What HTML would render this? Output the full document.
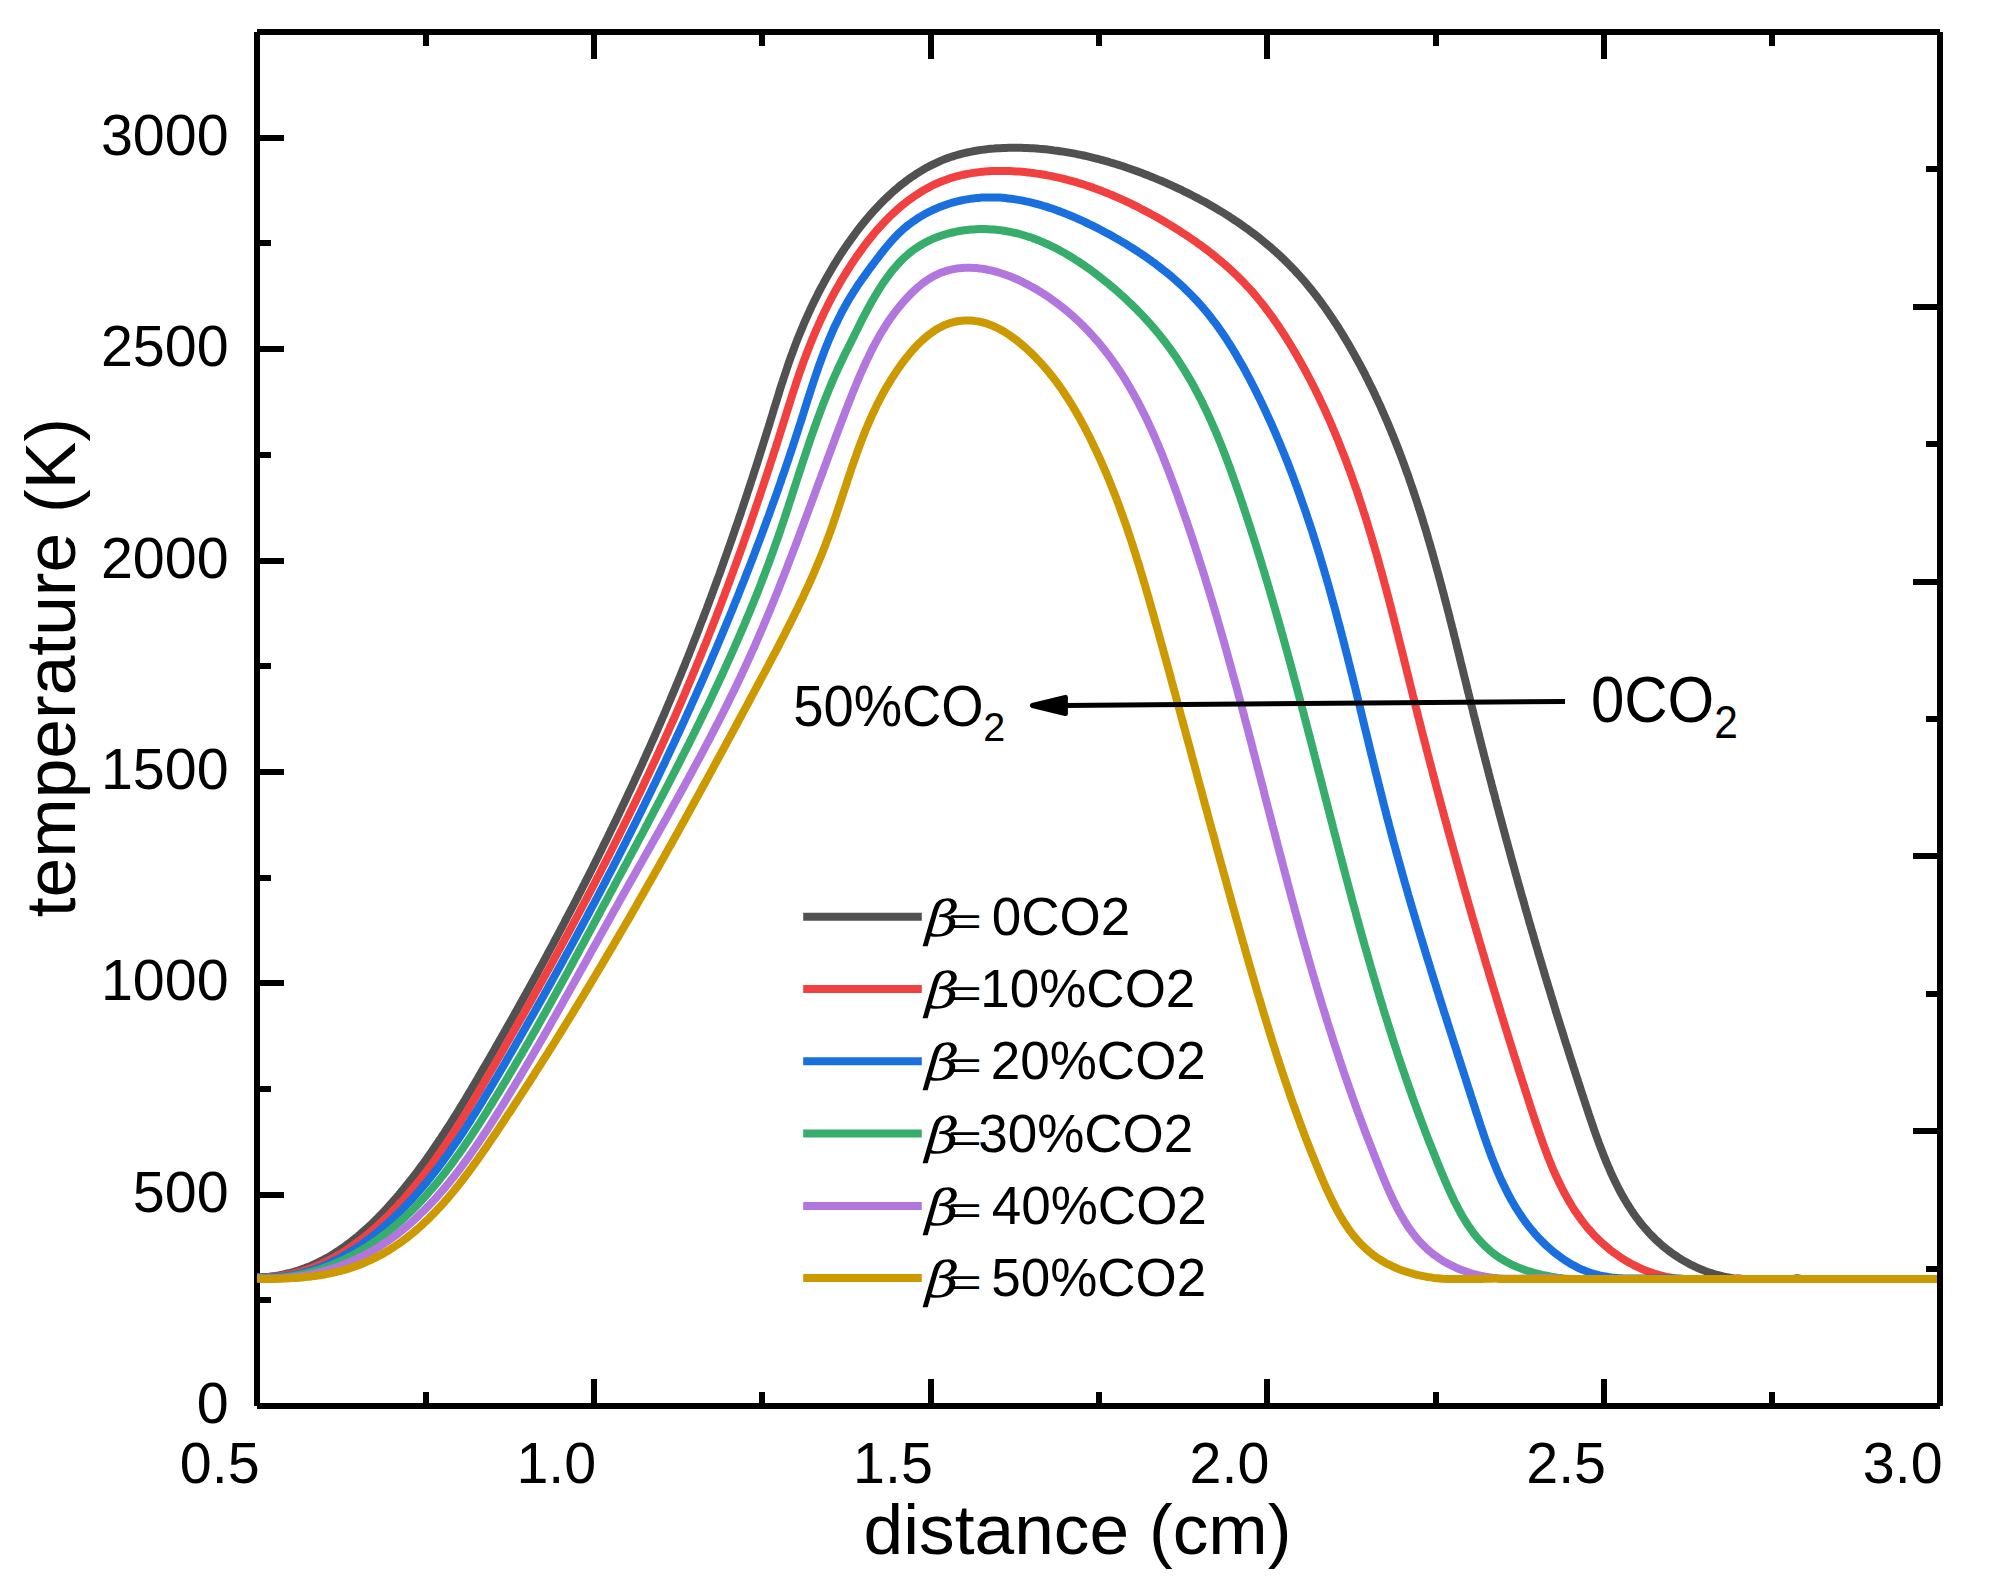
<!DOCTYPE html>
<html lang="en"><head><meta charset="utf-8"><title>temperature vs distance</title>
<style>
html,body{margin:0;padding:0;background:#fff;}
body{width:1990px;height:1584px;overflow:hidden;}
svg{display:block;}
text{font-family:"Liberation Sans",Arial,sans-serif;fill:#000;}
.beta{font-family:"DejaVu Math TeX Gyre","DejaVu Serif","Liberation Serif",serif;font-style:italic;}
</style></head><body>
<svg width="1990" height="1584" viewBox="0 0 1990 1584">
<rect x="0" y="0" width="1990" height="1584" fill="#fff"/>
<path d="M257.0 32.0H1940.0M1940.0 1406.0H257.0M257.0 1406.0V32.0" fill="none" stroke="#000" stroke-width="6.0" shape-rendering="crispEdges"/>
<defs><clipPath id="pa"><rect x="257.0" y="32.0" width="1683.0" height="1374.0"/></clipPath></defs>
<g clip-path="url(#pa)" fill="none" stroke-width="8" stroke-linejoin="round" stroke-linecap="butt">
<path stroke="#515151" d="M256.0 1277.4L260.2 1277.3L263.3 1277.2L266.4 1276.9L269.5 1276.7L272.6 1276.3L275.6 1275.9L278.6 1275.4L281.6 1274.8L284.6 1274.2L287.5 1273.5L290.4 1272.8L293.3 1272.0L296.2 1271.2L299.0 1270.3L301.8 1269.3L304.6 1268.3L307.3 1267.2L310.1 1266.1L312.8 1264.9L315.5 1263.7L318.2 1262.4L320.8 1261.1L323.4 1259.7L326.0 1258.3L328.6 1256.9L331.2 1255.4L333.7 1253.8L336.2 1252.2L338.7 1250.6L341.2 1248.9L343.6 1247.2L346.0 1245.5L348.4 1243.7L350.8 1241.9L353.2 1240.0L355.5 1238.2L357.9 1236.3L360.2 1234.3L362.4 1232.3L364.7 1230.3L367.0 1228.3L369.2 1226.2L371.4 1224.2L373.6 1222.1L375.7 1219.9L377.9 1217.8L380.0 1215.6L382.1 1213.4L384.2 1211.2L386.3 1209.0L388.4 1206.7L390.4 1204.4L392.4 1202.2L394.4 1199.9L396.4 1197.6L398.4 1195.3L400.4 1192.9L402.3 1190.6L404.2 1188.2L406.1 1185.9L408.0 1183.5L409.9 1181.1L411.8 1178.8L413.6 1176.4L415.5 1174.0L417.3 1171.6L419.1 1169.2L420.9 1166.7L422.7 1164.3L424.5 1161.9L426.2 1159.4L428.0 1157.0L429.7 1154.5L431.4 1152.1L433.1 1149.6L434.8 1147.1L436.5 1144.6L438.2 1142.1L439.9 1139.6L441.5 1137.1L443.2 1134.6L444.8 1132.1L446.4 1129.6L448.1 1127.1L449.7 1124.6L451.3 1122.0L452.9 1119.5L454.5 1116.9L456.1 1114.4L457.7 1111.9L459.2 1109.3L460.8 1106.7L462.4 1104.2L463.9 1101.6L465.5 1099.1L467.0 1096.5L468.5 1093.9L470.1 1091.3L471.6 1088.8L473.1 1086.2L474.7 1083.6L476.2 1081.0L477.7 1078.4L479.2 1075.8L480.7 1073.2L482.2 1070.6L483.7 1068.1L485.2 1065.5L486.8 1062.9L488.3 1060.3L489.8 1057.7L491.3 1055.1L492.8 1052.5L494.3 1049.9L495.7 1047.3L497.2 1044.7L498.7 1042.1L500.2 1039.4L501.7 1036.8L503.2 1034.2L504.7 1031.6L506.2 1029.0L507.6 1026.4L509.1 1023.8L510.6 1021.2L512.1 1018.6L513.6 1015.9L515.0 1013.3L516.5 1010.7L518.0 1008.1L519.4 1005.5L520.9 1002.8L522.4 1000.2L523.8 997.6L525.3 995.0L526.7 992.3L528.2 989.7L529.6 987.1L531.1 984.4L532.5 981.8L534.0 979.2L535.4 976.5L536.9 973.9L538.3 971.2L539.7 968.6L541.2 966.0L542.6 963.3L544.0 960.7L545.5 958.0L546.9 955.4L548.3 952.7L549.7 950.1L551.2 947.4L552.6 944.8L554.0 942.1L555.4 939.5L556.8 936.8L558.2 934.2L559.6 931.5L561.0 928.9L562.5 926.2L563.9 923.5L565.2 920.9L566.6 918.2L568.0 915.5L569.4 912.9L570.8 910.2L572.2 907.5L573.6 904.9L575.0 902.2L576.4 899.5L577.7 896.9L579.1 894.2L580.5 891.5L581.8 888.8L583.2 886.2L584.6 883.5L585.9 880.8L587.3 878.1L588.7 875.4L590.0 872.7L591.4 870.1L592.7 867.4L594.1 864.7L595.4 862.0L596.7 859.3L598.1 856.6L599.4 853.9L600.8 851.2L602.1 848.5L603.4 845.8L604.7 843.1L606.1 840.4L607.4 837.7L608.7 835.0L610.0 832.3L611.3 829.6L612.6 826.9L614.0 824.2L615.3 821.5L616.6 818.8L617.9 816.1L619.2 813.3L620.4 810.6L621.7 807.9L623.0 805.2L624.3 802.5L625.6 799.8L626.9 797.0L628.1 794.3L629.4 791.6L630.7 788.9L632.0 786.1L633.2 783.4L634.5 780.7L635.7 777.9L637.0 775.2L638.3 772.5L639.5 769.7L640.8 767.0L642.0 764.3L643.2 761.5L644.5 758.8L645.7 756.1L646.9 753.3L648.2 750.6L649.4 747.8L650.6 745.1L651.8 742.3L653.1 739.6L654.3 736.8L655.5 734.1L656.7 731.3L657.9 728.6L659.1 725.8L660.3 723.1L661.5 720.3L662.7 717.5L663.9 714.8L665.1 712.0L666.2 709.3L667.4 706.5L668.6 703.7L669.8 701.0L670.9 698.2L672.1 695.4L673.3 692.6L674.4 689.9L675.6 687.1L676.7 684.3L677.9 681.5L679.0 678.8L680.2 676.0L681.3 673.2L682.4 670.4L683.6 667.6L684.7 664.9L685.8 662.1L686.9 659.3L688.1 656.5L689.2 653.7L690.3 650.9L691.4 648.1L692.5 645.3L693.6 642.5L694.7 639.7L695.8 636.9L696.9 634.1L698.0 631.3L699.1 628.5L700.1 625.7L701.2 622.9L702.3 620.1L703.4 617.3L704.4 614.5L705.5 611.7L706.6 608.9L707.6 606.1L708.7 603.3L709.7 600.4L710.8 597.6L711.8 594.8L712.9 592.0L713.9 589.2L714.9 586.4L716.0 583.5L717.0 580.7L718.0 577.9L719.1 575.1L720.1 572.3L721.1 569.4L722.1 566.6L723.1 563.8L724.1 560.9L725.1 558.1L726.1 555.3L727.1 552.5L728.1 549.6L729.1 546.8L730.1 544.0L731.1 541.1L732.1 538.3L733.1 535.4L734.1 532.6L735.0 529.8L736.0 526.9L737.0 524.1L738.0 521.2L738.9 518.4L739.9 515.6L740.9 512.7L741.8 509.9L742.8 507.0L743.7 504.2L744.7 501.3L745.6 498.5L746.6 495.6L747.5 492.8L748.4 489.9L749.4 487.1L750.3 484.2L751.2 481.4L752.2 478.5L753.1 475.7L754.0 472.8L754.9 470.0L755.9 467.1L756.8 464.3L757.7 461.4L758.6 458.5L759.5 455.7L760.4 452.8L761.3 450.0L762.2 447.1L763.1 444.2L764.0 441.4L764.9 438.5L765.8 435.7L766.7 432.8L767.6 429.9L768.5 427.1L769.4 424.2L770.2 421.3L771.1 418.5L772.0 415.6L772.9 412.8L773.7 409.9L774.6 407.0L775.5 404.2L776.4 401.3L777.3 398.4L778.2 395.6L779.0 392.7L779.9 389.8L780.8 387.0L781.7 384.1L782.7 381.3L783.6 378.4L784.5 375.6L785.5 372.7L786.4 369.9L787.4 367.0L788.3 364.2L789.3 361.4L790.3 358.5L791.3 355.7L792.4 352.9L793.4 350.1L794.5 347.2L795.5 344.4L796.6 341.6L797.7 338.8L798.8 336.0L800.0 333.2L801.1 330.5L802.3 327.7L803.4 324.9L804.6 322.1L805.8 319.4L807.1 316.6L808.3 313.9L809.6 311.1L810.8 308.4L812.1 305.6L813.4 302.9L814.8 300.2L816.1 297.5L817.5 294.8L818.8 292.1L820.2 289.4L821.6 286.8L823.1 284.1L824.5 281.4L826.0 278.8L827.5 276.1L829.0 273.5L830.5 270.9L832.0 268.3L833.6 265.7L835.2 263.1L836.8 260.5L838.4 257.9L840.0 255.4L841.7 252.8L843.4 250.3L845.1 247.8L846.8 245.3L848.5 242.8L850.3 240.3L852.1 237.8L853.9 235.3L855.7 232.9L857.5 230.4L859.4 228.0L861.3 225.6L863.2 223.2L865.1 220.9L867.1 218.5L869.1 216.2L871.1 213.9L873.1 211.6L875.1 209.4L877.2 207.2L879.3 205.0L881.4 202.8L883.5 200.7L885.7 198.5L887.9 196.5L890.1 194.4L892.3 192.4L894.5 190.4L896.8 188.5L899.1 186.5L901.4 184.7L903.8 182.8L906.1 181.0L908.5 179.3L910.9 177.5L913.4 175.9L915.8 174.2L918.3 172.6L920.8 171.1L923.3 169.6L925.9 168.1L928.5 166.7L931.1 165.4L933.7 164.1L936.4 162.8L939.0 161.6L941.7 160.4L944.5 159.3L947.2 158.3L950.0 157.3L952.8 156.4L955.6 155.5L958.5 154.7L961.3 153.9L964.2 153.2L967.1 152.5L970.1 151.9L973.0 151.3L975.9 150.8L978.9 150.3L981.9 149.9L984.9 149.5L987.9 149.1L990.9 148.8L993.9 148.6L996.9 148.3L1000.0 148.2L1003.0 148.0L1006.0 147.9L1009.0 147.8L1012.1 147.8L1015.1 147.8L1018.1 147.8L1021.2 147.8L1024.2 147.9L1027.2 148.0L1030.2 148.2L1033.2 148.3L1036.2 148.5L1039.2 148.8L1042.2 149.0L1045.2 149.3L1048.2 149.6L1051.2 150.0L1054.1 150.4L1057.1 150.7L1060.1 151.2L1063.1 151.6L1066.0 152.1L1069.0 152.6L1071.9 153.1L1074.9 153.7L1077.8 154.3L1080.8 154.9L1083.7 155.5L1086.6 156.2L1089.6 156.9L1092.5 157.6L1095.4 158.3L1098.3 159.0L1101.2 159.8L1104.1 160.6L1107.0 161.4L1109.9 162.3L1112.8 163.1L1115.7 164.0L1118.5 164.9L1121.4 165.8L1124.3 166.8L1127.1 167.7L1130.0 168.7L1132.8 169.7L1135.7 170.7L1138.5 171.8L1141.3 172.8L1144.2 173.9L1147.0 175.0L1149.8 176.1L1152.6 177.3L1155.4 178.4L1158.2 179.6L1161.0 180.7L1163.7 181.9L1166.5 183.1L1169.3 184.4L1172.0 185.6L1174.8 186.9L1177.5 188.2L1180.3 189.4L1183.0 190.8L1185.7 192.1L1188.4 193.4L1191.1 194.8L1193.8 196.2L1196.5 197.6L1199.2 199.0L1201.8 200.4L1204.5 201.8L1207.1 203.3L1209.7 204.8L1212.3 206.3L1214.9 207.8L1217.5 209.3L1220.1 210.9L1222.7 212.4L1225.2 214.0L1227.8 215.6L1230.3 217.3L1232.8 218.9L1235.3 220.6L1237.8 222.2L1240.3 223.9L1242.8 225.7L1245.2 227.4L1247.6 229.1L1250.1 230.9L1252.5 232.7L1254.8 234.5L1257.2 236.3L1259.6 238.2L1261.9 240.1L1264.2 242.0L1266.5 243.9L1268.8 245.8L1271.1 247.7L1273.3 249.7L1275.6 251.7L1277.8 253.7L1280.0 255.7L1282.1 257.8L1284.3 259.8L1286.4 261.9L1288.5 264.0L1290.6 266.2L1292.7 268.3L1294.8 270.5L1296.8 272.7L1298.8 274.9L1300.8 277.1L1302.8 279.4L1304.8 281.7L1306.7 283.9L1308.6 286.3L1310.5 288.6L1312.4 290.9L1314.2 293.3L1316.1 295.6L1317.9 298.0L1319.7 300.4L1321.5 302.9L1323.3 305.3L1325.0 307.7L1326.8 310.2L1328.5 312.7L1330.2 315.2L1331.9 317.7L1333.5 320.2L1335.2 322.7L1336.8 325.2L1338.5 327.8L1340.1 330.3L1341.7 332.9L1343.2 335.5L1344.8 338.0L1346.3 340.6L1347.9 343.2L1349.4 345.8L1350.9 348.4L1352.4 351.1L1353.9 353.7L1355.3 356.3L1356.8 359.0L1358.2 361.6L1359.7 364.2L1361.1 366.9L1362.5 369.5L1363.9 372.2L1365.3 374.9L1366.6 377.6L1368.0 380.2L1369.3 382.9L1370.6 385.6L1372.0 388.3L1373.3 391.0L1374.6 393.7L1375.8 396.4L1377.1 399.1L1378.4 401.9L1379.6 404.6L1380.9 407.3L1382.1 410.1L1383.3 412.8L1384.5 415.5L1385.7 418.3L1386.9 421.0L1388.1 423.8L1389.2 426.6L1390.4 429.3L1391.5 432.1L1392.7 434.9L1393.8 437.7L1394.9 440.4L1396.0 443.2L1397.1 446.0L1398.2 448.8L1399.3 451.6L1400.3 454.4L1401.4 457.2L1402.4 460.0L1403.5 462.9L1404.5 465.7L1405.5 468.5L1406.5 471.3L1407.6 474.2L1408.6 477.0L1409.5 479.8L1410.5 482.7L1411.5 485.5L1412.5 488.4L1413.4 491.2L1414.4 494.1L1415.3 496.9L1416.3 499.8L1417.2 502.6L1418.1 505.5L1419.0 508.4L1420.0 511.2L1420.9 514.1L1421.8 517.0L1422.7 519.9L1423.5 522.7L1424.4 525.6L1425.3 528.5L1426.2 531.4L1427.0 534.3L1427.9 537.2L1428.7 540.1L1429.6 543.0L1430.4 545.9L1431.2 548.7L1432.1 551.6L1432.9 554.6L1433.7 557.5L1434.5 560.4L1435.3 563.3L1436.1 566.2L1436.9 569.1L1437.7 572.0L1438.5 574.9L1439.3 577.8L1440.1 580.7L1440.9 583.7L1441.7 586.6L1442.4 589.5L1443.2 592.4L1444.0 595.3L1444.7 598.3L1445.5 601.2L1446.3 604.1L1447.0 607.0L1447.8 610.0L1448.5 612.9L1449.3 615.8L1450.0 618.7L1450.7 621.7L1451.5 624.6L1452.2 627.5L1453.0 630.4L1453.7 633.4L1454.4 636.3L1455.2 639.2L1455.9 642.2L1456.6 645.1L1457.3 648.0L1458.1 650.9L1458.8 653.9L1459.5 656.8L1460.2 659.7L1460.9 662.7L1461.7 665.6L1462.4 668.5L1463.1 671.4L1463.8 674.4L1464.5 677.3L1465.3 680.2L1466.0 683.1L1466.7 686.0L1467.4 689.0L1468.1 691.9L1468.9 694.8L1469.6 697.7L1470.3 700.6L1471.0 703.6L1471.8 706.5L1472.5 709.4L1473.2 712.3L1473.9 715.2L1474.7 718.1L1475.4 721.0L1476.1 723.9L1476.9 726.8L1477.6 729.7L1478.3 732.6L1479.1 735.6L1479.8 738.5L1480.5 741.4L1481.3 744.3L1482.0 747.2L1482.8 750.1L1483.5 753.0L1484.2 755.8L1485.0 758.7L1485.7 761.6L1486.5 764.5L1487.2 767.4L1488.0 770.3L1488.7 773.2L1489.5 776.1L1490.2 779.0L1491.0 781.9L1491.7 784.8L1492.5 787.7L1493.2 790.5L1494.0 793.4L1494.8 796.3L1495.5 799.2L1496.3 802.1L1497.0 805.0L1497.8 807.9L1498.6 810.7L1499.3 813.6L1500.1 816.5L1500.9 819.4L1501.7 822.3L1502.4 825.1L1503.2 828.0L1504.0 830.9L1504.8 833.8L1505.5 836.7L1506.3 839.5L1507.1 842.4L1507.9 845.3L1508.7 848.2L1509.5 851.0L1510.2 853.9L1511.0 856.8L1511.8 859.7L1512.6 862.6L1513.4 865.4L1514.2 868.3L1515.0 871.2L1515.8 874.1L1516.6 876.9L1517.4 879.8L1518.2 882.7L1519.0 885.6L1519.8 888.4L1520.6 891.3L1521.4 894.2L1522.2 897.0L1523.1 899.9L1523.9 902.8L1524.7 905.7L1525.5 908.5L1526.3 911.4L1527.2 914.3L1528.0 917.2L1528.8 920.0L1529.6 922.9L1530.5 925.8L1531.3 928.7L1532.1 931.5L1533.0 934.4L1533.8 937.3L1534.6 940.2L1535.5 943.0L1536.3 945.9L1537.2 948.8L1538.0 951.7L1538.9 954.6L1539.7 957.4L1540.6 960.3L1541.4 963.2L1542.3 966.1L1543.1 968.9L1544.0 971.8L1544.8 974.7L1545.7 977.6L1546.6 980.5L1547.4 983.3L1548.3 986.2L1549.2 989.1L1550.1 992.0L1550.9 994.9L1551.8 997.8L1552.7 1000.6L1553.6 1003.5L1554.4 1006.4L1555.3 1009.3L1556.2 1012.2L1557.1 1015.1L1558.0 1018.0L1558.9 1020.9L1559.8 1023.7L1560.7 1026.6L1561.6 1029.5L1562.5 1032.4L1563.4 1035.3L1564.3 1038.2L1565.2 1041.1L1566.1 1044.0L1567.1 1046.9L1568.0 1049.8L1568.9 1052.7L1569.8 1055.6L1570.7 1058.5L1571.7 1061.4L1572.6 1064.3L1573.5 1067.2L1574.5 1070.1L1575.4 1073.0L1576.3 1075.9L1577.3 1078.8L1578.2 1081.7L1579.2 1084.6L1580.1 1087.5L1581.0 1090.4L1582.0 1093.4L1583.0 1096.3L1583.9 1099.2L1584.9 1102.1L1585.8 1105.0L1586.8 1107.9L1587.8 1110.9L1588.7 1113.8L1589.7 1116.7L1590.7 1119.6L1591.7 1122.5L1592.7 1125.4L1593.7 1128.4L1594.7 1131.3L1595.7 1134.2L1596.7 1137.0L1597.8 1139.9L1598.8 1142.8L1599.9 1145.7L1601.0 1148.5L1602.1 1151.4L1603.2 1154.2L1604.3 1157.1L1605.5 1159.9L1606.6 1162.7L1607.8 1165.5L1609.0 1168.2L1610.2 1171.0L1611.4 1173.8L1612.7 1176.5L1614.0 1179.2L1615.3 1181.9L1616.6 1184.6L1617.9 1187.2L1619.3 1189.9L1620.7 1192.5L1622.1 1195.1L1623.6 1197.6L1625.1 1200.2L1626.6 1202.7L1628.1 1205.2L1629.7 1207.7L1631.3 1210.1L1632.9 1212.6L1634.6 1215.0L1636.3 1217.3L1638.1 1219.7L1639.8 1222.0L1641.6 1224.3L1643.5 1226.5L1645.4 1228.7L1647.3 1230.9L1649.2 1233.0L1651.3 1235.2L1653.3 1237.2L1655.4 1239.3L1657.5 1241.3L1659.7 1243.3L1661.9 1245.2L1664.1 1247.1L1666.4 1248.9L1668.8 1250.7L1671.1 1252.5L1673.5 1254.2L1676.0 1255.9L1678.4 1257.5L1680.9 1259.1L1683.5 1260.6L1686.1 1262.1L1688.7 1263.5L1691.3 1264.9L1694.0 1266.2L1696.7 1267.5L1699.4 1268.7L1702.2 1269.8L1705.0 1270.9L1707.8 1271.9L1710.6 1272.9L1713.5 1273.8L1716.4 1274.7L1719.3 1275.4L1722.2 1276.2L1725.2 1276.8L1728.2 1277.4L1731.1 1278.0L1734.1 1278.5L1737.2 1278.9L1740.2 1279.0L1743.2 1279.0L1746.3 1279.0L1749.4 1279.0L1752.4 1279.0L1755.5 1279.0L1758.6 1279.0L1761.6 1279.0L1764.7 1279.0L1767.8 1279.0L1770.8 1279.0L1773.9 1279.0L1777.0 1279.0L1780.0 1279.0L1783.1 1279.0L1786.1 1279.0L1789.1 1279.0L1792.1 1279.0L1795.1 1278.6L1798.1 1278.3L1801.0 1279.0L1941.0 1279.0"/>
<path stroke="#F14040" d="M256.0 1277.4L260.1 1277.4L263.3 1277.4L266.4 1277.3L269.5 1277.1L272.6 1276.9L275.6 1276.6L278.7 1276.2L281.7 1275.8L284.7 1275.3L287.6 1274.7L290.6 1274.1L293.5 1273.4L296.4 1272.7L299.3 1271.9L302.1 1271.1L305.0 1270.2L307.8 1269.2L310.6 1268.2L313.4 1267.2L316.1 1266.1L318.9 1264.9L321.6 1263.7L324.3 1262.5L326.9 1261.2L329.6 1259.8L332.2 1258.4L334.8 1257.0L337.4 1255.5L340.0 1254.0L342.5 1252.4L345.0 1250.9L347.5 1249.2L350.0 1247.5L352.5 1245.8L354.9 1244.1L357.4 1242.3L359.8 1240.5L362.2 1238.7L364.5 1236.8L366.9 1234.9L369.2 1233.0L371.5 1231.0L373.8 1229.0L376.1 1227.0L378.3 1225.0L380.5 1222.9L382.7 1220.8L384.9 1218.7L387.1 1216.6L389.3 1214.5L391.4 1212.3L393.5 1210.1L395.6 1207.9L397.7 1205.7L399.7 1203.5L401.8 1201.3L403.8 1199.0L405.8 1196.8L407.8 1194.5L409.7 1192.2L411.7 1189.9L413.6 1187.6L415.5 1185.3L417.4 1182.9L419.3 1180.6L421.2 1178.2L423.0 1175.9L424.9 1173.5L426.7 1171.1L428.5 1168.7L430.3 1166.3L432.1 1163.9L433.9 1161.5L435.6 1159.0L437.4 1156.6L439.1 1154.1L440.8 1151.7L442.5 1149.2L444.2 1146.7L445.9 1144.3L447.6 1141.8L449.2 1139.3L450.9 1136.8L452.5 1134.3L454.2 1131.7L455.8 1129.2L457.4 1126.7L459.0 1124.2L460.6 1121.6L462.2 1119.1L463.8 1116.5L465.4 1114.0L467.0 1111.4L468.5 1108.8L470.1 1106.3L471.7 1103.7L473.2 1101.1L474.7 1098.5L476.3 1096.0L477.8 1093.4L479.4 1090.8L480.9 1088.2L482.4 1085.6L483.9 1083.0L485.4 1080.4L487.0 1077.8L488.5 1075.2L490.0 1072.6L491.5 1070.0L493.0 1067.4L494.5 1064.8L496.0 1062.2L497.5 1059.6L499.0 1057.0L500.5 1054.4L502.0 1051.8L503.5 1049.2L505.0 1046.6L506.5 1043.9L508.0 1041.3L509.5 1038.7L511.0 1036.1L512.5 1033.5L514.0 1030.9L515.5 1028.3L516.9 1025.7L518.4 1023.0L519.9 1020.4L521.4 1017.8L522.9 1015.2L524.4 1012.6L525.8 1009.9L527.3 1007.3L528.8 1004.7L530.3 1002.1L531.7 999.5L533.2 996.8L534.7 994.2L536.1 991.6L537.6 989.0L539.1 986.3L540.5 983.7L542.0 981.1L543.4 978.4L544.9 975.8L546.4 973.2L547.8 970.5L549.3 967.9L550.7 965.3L552.2 962.6L553.6 960.0L555.0 957.4L556.5 954.7L557.9 952.1L559.4 949.4L560.8 946.8L562.2 944.2L563.7 941.5L565.1 938.9L566.5 936.2L568.0 933.6L569.4 930.9L570.8 928.3L572.2 925.6L573.6 923.0L575.1 920.3L576.5 917.7L577.9 915.0L579.3 912.4L580.7 909.7L582.1 907.0L583.5 904.4L584.9 901.7L586.3 899.1L587.7 896.4L589.1 893.7L590.5 891.1L591.9 888.4L593.3 885.7L594.7 883.1L596.0 880.4L597.4 877.7L598.8 875.1L600.2 872.4L601.5 869.7L602.9 867.0L604.3 864.4L605.7 861.7L607.0 859.0L608.4 856.3L609.7 853.7L611.1 851.0L612.4 848.3L613.8 845.6L615.1 842.9L616.5 840.2L617.8 837.6L619.2 834.9L620.5 832.2L621.9 829.5L623.2 826.8L624.5 824.1L625.8 821.4L627.2 818.7L628.5 816.0L629.8 813.3L631.1 810.6L632.4 807.9L633.8 805.2L635.1 802.5L636.4 799.8L637.7 797.1L639.0 794.4L640.3 791.7L641.6 789.0L642.9 786.3L644.1 783.5L645.4 780.8L646.7 778.1L648.0 775.4L649.3 772.7L650.5 770.0L651.8 767.2L653.1 764.5L654.4 761.8L655.6 759.1L656.9 756.3L658.1 753.6L659.4 750.9L660.6 748.1L661.9 745.4L663.1 742.7L664.4 739.9L665.6 737.2L666.8 734.5L668.1 731.7L669.3 729.0L670.5 726.2L671.7 723.5L673.0 720.8L674.2 718.0L675.4 715.3L676.6 712.5L677.8 709.8L679.0 707.0L680.2 704.3L681.4 701.5L682.6 698.7L683.8 696.0L685.0 693.2L686.1 690.5L687.3 687.7L688.5 684.9L689.7 682.2L690.8 679.4L692.0 676.6L693.1 673.8L694.3 671.1L695.5 668.3L696.6 665.5L697.7 662.7L698.9 660.0L700.0 657.2L701.2 654.4L702.3 651.6L703.4 648.8L704.5 646.0L705.7 643.3L706.8 640.5L707.9 637.7L709.0 634.9L710.1 632.1L711.2 629.3L712.3 626.5L713.4 623.7L714.5 620.9L715.6 618.1L716.7 615.3L717.8 612.5L718.8 609.7L719.9 606.9L721.0 604.1L722.1 601.2L723.1 598.4L724.2 595.6L725.2 592.8L726.3 590.0L727.4 587.2L728.4 584.4L729.5 581.5L730.5 578.7L731.5 575.9L732.6 573.1L733.6 570.3L734.6 567.4L735.7 564.6L736.7 561.8L737.7 559.0L738.7 556.1L739.8 553.3L740.8 550.5L741.8 547.6L742.8 544.8L743.8 542.0L744.8 539.1L745.8 536.3L746.8 533.5L747.8 530.6L748.8 527.8L749.8 525.0L750.8 522.1L751.7 519.3L752.7 516.5L753.7 513.6L754.7 510.8L755.6 507.9L756.6 505.1L757.6 502.2L758.5 499.4L759.5 496.6L760.5 493.7L761.4 490.9L762.4 488.0L763.3 485.2L764.3 482.3L765.2 479.5L766.2 476.6L767.1 473.8L768.0 470.9L769.0 468.1L769.9 465.2L770.8 462.4L771.8 459.5L772.7 456.7L773.6 453.8L774.5 451.0L775.5 448.1L776.4 445.3L777.3 442.4L778.2 439.6L779.1 436.7L780.0 433.9L780.9 431.0L781.8 428.1L782.7 425.3L783.6 422.4L784.5 419.6L785.4 416.7L786.3 413.9L787.2 411.0L788.1 408.2L789.0 405.3L789.9 402.5L790.8 399.6L791.7 396.8L792.6 393.9L793.5 391.1L794.5 388.2L795.4 385.4L796.3 382.5L797.3 379.7L798.2 376.9L799.2 374.0L800.2 371.2L801.2 368.4L802.2 365.5L803.2 362.7L804.2 359.9L805.3 357.1L806.3 354.3L807.4 351.5L808.5 348.7L809.6 345.9L810.7 343.1L811.8 340.3L813.0 337.5L814.2 334.7L815.3 332.0L816.5 329.2L817.8 326.4L819.0 323.7L820.3 320.9L821.5 318.2L822.8 315.5L824.1 312.7L825.4 310.0L826.8 307.3L828.1 304.6L829.5 301.9L830.9 299.2L832.3 296.5L833.8 293.8L835.2 291.2L836.7 288.5L838.2 285.9L839.7 283.2L841.3 280.6L842.8 278.0L844.4 275.4L846.0 272.8L847.6 270.2L849.3 267.6L850.9 265.0L852.6 262.5L854.3 259.9L856.0 257.4L857.8 254.9L859.6 252.4L861.4 249.9L863.2 247.4L865.0 244.9L866.9 242.5L868.8 240.1L870.7 237.7L872.6 235.4L874.5 233.0L876.5 230.7L878.5 228.4L880.5 226.2L882.6 223.9L884.7 221.7L886.8 219.6L888.9 217.4L891.0 215.4L893.2 213.3L895.4 211.3L897.6 209.3L899.9 207.3L902.1 205.4L904.4 203.6L906.8 201.7L909.1 199.9L911.5 198.2L913.9 196.5L916.3 194.9L918.8 193.3L921.2 191.7L923.7 190.2L926.3 188.8L928.8 187.4L931.4 186.0L934.0 184.7L936.7 183.5L939.4 182.3L942.1 181.2L944.8 180.2L947.5 179.2L950.3 178.2L953.1 177.4L956.0 176.5L958.8 175.8L961.7 175.1L964.6 174.5L967.5 173.9L970.5 173.4L973.5 172.9L976.4 172.5L979.4 172.1L982.4 171.8L985.4 171.5L988.5 171.3L991.5 171.1L994.5 171.0L997.6 170.9L1000.6 170.9L1003.7 170.9L1006.7 171.0L1009.8 171.1L1012.8 171.2L1015.8 171.4L1018.9 171.6L1021.9 171.8L1024.9 172.1L1027.9 172.4L1030.9 172.8L1033.9 173.1L1036.9 173.6L1039.9 174.0L1042.8 174.5L1045.8 175.0L1048.7 175.6L1051.7 176.1L1054.6 176.8L1057.6 177.4L1060.5 178.1L1063.4 178.8L1066.3 179.5L1069.2 180.3L1072.1 181.1L1075.0 181.9L1077.9 182.8L1080.8 183.6L1083.6 184.5L1086.5 185.5L1089.3 186.4L1092.2 187.4L1095.0 188.4L1097.8 189.5L1100.6 190.5L1103.4 191.6L1106.2 192.7L1109.0 193.9L1111.8 195.0L1114.6 196.2L1117.4 197.4L1120.1 198.6L1122.9 199.9L1125.6 201.1L1128.3 202.4L1131.0 203.7L1133.8 205.1L1136.5 206.4L1139.2 207.8L1141.8 209.2L1144.5 210.6L1147.2 212.0L1149.9 213.4L1152.5 214.9L1155.1 216.3L1157.8 217.8L1160.4 219.3L1163.0 220.8L1165.6 222.3L1168.2 223.9L1170.8 225.4L1173.4 227.0L1175.9 228.6L1178.5 230.2L1181.0 231.8L1183.6 233.5L1186.1 235.1L1188.6 236.8L1191.1 238.5L1193.5 240.2L1196.0 241.9L1198.4 243.7L1200.9 245.4L1203.3 247.2L1205.7 249.0L1208.1 250.8L1210.4 252.6L1212.8 254.5L1215.1 256.4L1217.4 258.3L1219.7 260.2L1222.0 262.1L1224.3 264.0L1226.5 266.0L1228.8 268.0L1231.0 270.0L1233.2 272.1L1235.3 274.1L1237.5 276.2L1239.6 278.3L1241.7 280.4L1243.8 282.5L1245.8 284.7L1247.9 286.9L1249.9 289.1L1251.9 291.3L1253.9 293.6L1255.8 295.9L1257.7 298.2L1259.6 300.5L1261.5 302.8L1263.4 305.2L1265.2 307.6L1267.0 310.0L1268.8 312.4L1270.6 314.8L1272.4 317.2L1274.1 319.7L1275.8 322.2L1277.5 324.6L1279.2 327.1L1280.9 329.7L1282.5 332.2L1284.2 334.7L1285.8 337.3L1287.4 339.8L1289.0 342.4L1290.5 344.9L1292.1 347.5L1293.6 350.1L1295.2 352.7L1296.7 355.3L1298.2 357.9L1299.7 360.5L1301.2 363.2L1302.6 365.8L1304.1 368.4L1305.5 371.1L1306.9 373.7L1308.3 376.3L1309.7 379.0L1311.1 381.7L1312.5 384.3L1313.8 387.0L1315.2 389.7L1316.5 392.4L1317.8 395.1L1319.1 397.8L1320.4 400.5L1321.7 403.2L1323.0 405.9L1324.2 408.6L1325.5 411.3L1326.7 414.1L1327.9 416.8L1329.2 419.5L1330.4 422.3L1331.6 425.0L1332.7 427.8L1333.9 430.5L1335.1 433.3L1336.2 436.0L1337.4 438.8L1338.5 441.6L1339.6 444.4L1340.7 447.2L1341.8 449.9L1342.9 452.7L1344.0 455.5L1345.1 458.3L1346.1 461.1L1347.2 464.0L1348.2 466.8L1349.3 469.6L1350.3 472.4L1351.3 475.2L1352.3 478.1L1353.3 480.9L1354.3 483.7L1355.3 486.6L1356.3 489.4L1357.3 492.2L1358.2 495.1L1359.2 497.9L1360.1 500.8L1361.1 503.7L1362.0 506.5L1362.9 509.4L1363.8 512.2L1364.8 515.1L1365.7 518.0L1366.6 520.9L1367.5 523.7L1368.3 526.6L1369.2 529.5L1370.1 532.4L1371.0 535.3L1371.8 538.2L1372.7 541.1L1373.5 544.0L1374.4 546.8L1375.2 549.7L1376.1 552.6L1376.9 555.5L1377.7 558.4L1378.5 561.4L1379.3 564.3L1380.1 567.2L1381.0 570.1L1381.8 573.0L1382.5 575.9L1383.3 578.8L1384.1 581.7L1384.9 584.7L1385.7 587.6L1386.5 590.5L1387.2 593.4L1388.0 596.3L1388.8 599.3L1389.5 602.2L1390.3 605.1L1391.1 608.0L1391.8 611.0L1392.6 613.9L1393.3 616.8L1394.1 619.7L1394.8 622.7L1395.5 625.6L1396.3 628.5L1397.0 631.5L1397.8 634.4L1398.5 637.3L1399.2 640.2L1400.0 643.2L1400.7 646.1L1401.4 649.0L1402.2 652.0L1402.9 654.9L1403.6 657.8L1404.3 660.8L1405.1 663.7L1405.8 666.6L1406.5 669.5L1407.2 672.5L1408.0 675.4L1408.7 678.3L1409.4 681.2L1410.1 684.2L1410.9 687.1L1411.6 690.0L1412.3 692.9L1413.0 695.8L1413.8 698.8L1414.5 701.7L1415.2 704.6L1415.9 707.5L1416.7 710.4L1417.4 713.3L1418.1 716.2L1418.9 719.2L1419.6 722.1L1420.4 725.0L1421.1 727.9L1421.8 730.8L1422.6 733.7L1423.3 736.6L1424.1 739.5L1424.8 742.4L1425.6 745.3L1426.3 748.2L1427.1 751.1L1427.8 754.0L1428.6 756.9L1429.3 759.8L1430.1 762.7L1430.8 765.6L1431.6 768.4L1432.3 771.3L1433.1 774.2L1433.8 777.1L1434.6 780.0L1435.4 782.9L1436.1 785.8L1436.9 788.7L1437.7 791.5L1438.4 794.4L1439.2 797.3L1440.0 800.2L1440.7 803.1L1441.5 806.0L1442.3 808.8L1443.1 811.7L1443.8 814.6L1444.6 817.5L1445.4 820.4L1446.2 823.2L1447.0 826.1L1447.7 829.0L1448.5 831.9L1449.3 834.8L1450.1 837.6L1450.9 840.5L1451.7 843.4L1452.5 846.3L1453.3 849.1L1454.1 852.0L1454.9 854.9L1455.7 857.8L1456.5 860.6L1457.3 863.5L1458.1 866.4L1458.9 869.2L1459.7 872.1L1460.5 875.0L1461.3 877.9L1462.1 880.7L1462.9 883.6L1463.7 886.5L1464.5 889.3L1465.3 892.2L1466.2 895.1L1467.0 898.0L1467.8 900.8L1468.6 903.7L1469.4 906.6L1470.3 909.5L1471.1 912.3L1471.9 915.2L1472.7 918.1L1473.6 920.9L1474.4 923.8L1475.2 926.7L1476.1 929.6L1476.9 932.4L1477.8 935.3L1478.6 938.2L1479.4 941.1L1480.3 943.9L1481.1 946.8L1482.0 949.7L1482.8 952.6L1483.7 955.4L1484.5 958.3L1485.4 961.2L1486.2 964.1L1487.1 966.9L1488.0 969.8L1488.8 972.7L1489.7 975.6L1490.5 978.5L1491.4 981.3L1492.3 984.2L1493.1 987.1L1494.0 990.0L1494.9 992.9L1495.8 995.7L1496.6 998.6L1497.5 1001.5L1498.4 1004.4L1499.3 1007.3L1500.2 1010.2L1501.0 1013.1L1501.9 1015.9L1502.8 1018.8L1503.7 1021.7L1504.6 1024.6L1505.5 1027.5L1506.4 1030.4L1507.3 1033.3L1508.2 1036.2L1509.1 1039.1L1510.0 1042.0L1510.9 1044.9L1511.8 1047.8L1512.7 1050.7L1513.6 1053.6L1514.5 1056.5L1515.5 1059.4L1516.4 1062.3L1517.3 1065.2L1518.2 1068.1L1519.1 1071.0L1520.1 1073.9L1521.0 1076.8L1521.9 1079.7L1522.8 1082.6L1523.8 1085.5L1524.7 1088.5L1525.6 1091.4L1526.6 1094.3L1527.5 1097.2L1528.5 1100.1L1529.4 1103.1L1530.3 1106.0L1531.3 1108.9L1532.2 1111.8L1533.2 1114.7L1534.2 1117.7L1535.1 1120.6L1536.1 1123.5L1537.1 1126.4L1538.1 1129.3L1539.0 1132.2L1540.1 1135.1L1541.1 1138.0L1542.1 1140.9L1543.1 1143.8L1544.2 1146.7L1545.2 1149.5L1546.3 1152.4L1547.4 1155.2L1548.5 1158.1L1549.6 1160.9L1550.8 1163.7L1551.9 1166.5L1553.1 1169.3L1554.3 1172.0L1555.5 1174.8L1556.8 1177.5L1558.1 1180.2L1559.3 1182.9L1560.7 1185.6L1562.0 1188.3L1563.4 1190.9L1564.7 1193.5L1566.2 1196.1L1567.6 1198.7L1569.1 1201.3L1570.6 1203.8L1572.1 1206.3L1573.7 1208.8L1575.3 1211.2L1576.9 1213.7L1578.6 1216.0L1580.3 1218.4L1582.0 1220.8L1583.8 1223.1L1585.6 1225.4L1587.4 1227.6L1589.3 1229.8L1591.3 1232.0L1593.2 1234.2L1595.2 1236.3L1597.3 1238.4L1599.4 1240.4L1601.5 1242.4L1603.7 1244.4L1605.9 1246.3L1608.2 1248.2L1610.5 1250.1L1612.8 1251.9L1615.2 1253.6L1617.6 1255.3L1620.0 1257.0L1622.5 1258.6L1625.0 1260.2L1627.6 1261.7L1630.2 1263.2L1632.8 1264.6L1635.4 1265.9L1638.1 1267.2L1640.8 1268.5L1643.6 1269.6L1646.3 1270.8L1649.1 1271.8L1652.0 1272.8L1654.8 1273.7L1657.7 1274.6L1660.6 1275.4L1663.5 1276.1L1666.5 1276.8L1669.5 1277.4L1672.4 1278.0L1675.4 1278.5L1678.5 1278.9L1681.5 1279.0L1684.5 1279.0L1687.6 1279.0L1690.6 1279.0L1693.7 1279.0L1696.8 1279.0L1699.8 1279.0L1702.9 1279.0L1706.0 1279.0L1709.1 1279.0L1712.1 1279.0L1715.2 1279.0L1718.3 1279.0L1721.3 1279.0L1724.3 1279.0L1727.4 1279.0L1730.4 1279.0L1733.4 1279.0L1736.4 1278.6L1739.4 1278.3L1742.3 1279.0L1941.0 1279.0"/>
<path stroke="#1A6FDF" d="M256.0 1277.4L260.0 1277.6L263.2 1277.6L266.4 1277.7L269.5 1277.6L272.6 1277.5L275.7 1277.3L278.7 1277.1L281.8 1276.8L284.8 1276.4L287.8 1276.0L290.8 1275.5L293.7 1274.9L296.7 1274.3L299.6 1273.6L302.5 1272.9L305.4 1272.1L308.3 1271.3L311.1 1270.4L313.9 1269.4L316.7 1268.4L319.5 1267.4L322.3 1266.3L325.0 1265.1L327.8 1263.9L330.5 1262.7L333.1 1261.4L335.8 1260.1L338.5 1258.7L341.1 1257.3L343.7 1255.8L346.3 1254.3L348.8 1252.8L351.4 1251.2L353.9 1249.6L356.4 1248.0L358.9 1246.3L361.4 1244.6L363.8 1242.8L366.3 1241.0L368.7 1239.2L371.1 1237.4L373.4 1235.5L375.8 1233.6L378.1 1231.7L380.4 1229.8L382.7 1227.8L385.0 1225.8L387.2 1223.8L389.5 1221.7L391.7 1219.7L393.9 1217.6L396.0 1215.5L398.2 1213.4L400.3 1211.3L402.5 1209.1L404.6 1206.9L406.6 1204.8L408.7 1202.6L410.7 1200.4L412.8 1198.2L414.8 1195.9L416.8 1193.7L418.7 1191.4L420.7 1189.1L422.6 1186.9L424.5 1184.6L426.5 1182.3L428.3 1179.9L430.2 1177.6L432.1 1175.3L433.9 1172.9L435.8 1170.5L437.6 1168.2L439.4 1165.8L441.2 1163.4L443.0 1161.0L444.7 1158.5L446.5 1156.1L448.3 1153.7L450.0 1151.2L451.7 1148.8L453.4 1146.3L455.1 1143.8L456.8 1141.4L458.5 1138.9L460.2 1136.4L461.8 1133.9L463.5 1131.4L465.1 1128.8L466.7 1126.3L468.4 1123.8L470.0 1121.3L471.6 1118.7L473.2 1116.2L474.8 1113.6L476.4 1111.1L478.0 1108.5L479.5 1105.9L481.1 1103.4L482.7 1100.8L484.2 1098.2L485.8 1095.6L487.3 1093.0L488.9 1090.5L490.4 1087.9L492.0 1085.3L493.5 1082.7L495.0 1080.1L496.6 1077.5L498.1 1074.9L499.6 1072.3L501.2 1069.7L502.7 1067.1L504.2 1064.5L505.7 1061.9L507.2 1059.3L508.7 1056.6L510.3 1054.0L511.8 1051.4L513.3 1048.8L514.8 1046.2L516.3 1043.6L517.8 1041.0L519.3 1038.4L520.8 1035.8L522.3 1033.2L523.8 1030.5L525.3 1027.9L526.8 1025.3L528.3 1022.7L529.8 1020.1L531.3 1017.5L532.8 1014.8L534.3 1012.2L535.7 1009.6L537.2 1007.0L538.7 1004.3L540.2 1001.7L541.7 999.1L543.2 996.5L544.6 993.8L546.1 991.2L547.6 988.6L549.0 986.0L550.5 983.3L552.0 980.7L553.4 978.1L554.9 975.4L556.4 972.8L557.8 970.2L559.3 967.5L560.7 964.9L562.2 962.3L563.6 959.6L565.1 957.0L566.5 954.3L568.0 951.7L569.4 949.1L570.9 946.4L572.3 943.8L573.7 941.1L575.2 938.5L576.6 935.8L578.0 933.2L579.5 930.5L580.9 927.9L582.3 925.2L583.7 922.6L585.2 919.9L586.6 917.3L588.0 914.6L589.4 912.0L590.8 909.3L592.2 906.7L593.7 904.0L595.1 901.3L596.5 898.7L597.9 896.0L599.3 893.4L600.7 890.7L602.1 888.0L603.5 885.4L604.9 882.7L606.2 880.0L607.6 877.4L609.0 874.7L610.4 872.0L611.8 869.4L613.2 866.7L614.5 864.0L615.9 861.4L617.3 858.7L618.7 856.0L620.0 853.3L621.4 850.6L622.8 848.0L624.1 845.3L625.5 842.6L626.8 839.9L628.2 837.2L629.5 834.6L630.9 831.9L632.2 829.2L633.6 826.5L634.9 823.8L636.3 821.1L637.6 818.4L638.9 815.7L640.3 813.1L641.6 810.4L642.9 807.7L644.3 805.0L645.6 802.3L646.9 799.6L648.2 796.9L649.6 794.2L650.9 791.5L652.2 788.8L653.5 786.1L654.8 783.4L656.1 780.7L657.4 778.0L658.7 775.3L660.0 772.6L661.3 769.8L662.6 767.1L663.9 764.4L665.2 761.7L666.4 759.0L667.7 756.3L669.0 753.6L670.3 750.8L671.6 748.1L672.8 745.4L674.1 742.7L675.4 740.0L676.6 737.2L677.9 734.5L679.2 731.8L680.4 729.1L681.7 726.3L682.9 723.6L684.2 720.9L685.4 718.2L686.7 715.4L687.9 712.7L689.1 710.0L690.4 707.2L691.6 704.5L692.8 701.8L694.1 699.0L695.3 696.3L696.5 693.5L697.7 690.8L698.9 688.1L700.2 685.3L701.4 682.6L702.6 679.8L703.8 677.1L705.0 674.3L706.2 671.6L707.4 668.8L708.6 666.1L709.8 663.3L711.0 660.6L712.1 657.8L713.3 655.0L714.5 652.3L715.7 649.5L716.9 646.8L718.0 644.0L719.2 641.2L720.4 638.5L721.5 635.7L722.7 632.9L723.8 630.2L725.0 627.4L726.1 624.6L727.3 621.9L728.4 619.1L729.6 616.3L730.7 613.5L731.9 610.8L733.0 608.0L734.1 605.2L735.2 602.4L736.4 599.6L737.5 596.9L738.6 594.1L739.7 591.3L740.8 588.5L741.9 585.7L743.1 582.9L744.2 580.1L745.3 577.3L746.3 574.5L747.4 571.7L748.5 569.0L749.6 566.2L750.7 563.4L751.8 560.6L752.9 557.8L753.9 555.0L755.0 552.1L756.1 549.3L757.1 546.5L758.2 543.7L759.3 540.9L760.3 538.1L761.4 535.3L762.4 532.5L763.5 529.7L764.5 526.9L765.6 524.0L766.6 521.2L767.6 518.4L768.7 515.6L769.7 512.8L770.7 509.9L771.7 507.1L772.7 504.3L773.8 501.5L774.8 498.6L775.8 495.8L776.8 493.0L777.8 490.1L778.8 487.3L779.8 484.5L780.8 481.6L781.7 478.8L782.7 475.9L783.7 473.1L784.7 470.3L785.7 467.4L786.6 464.6L787.6 461.7L788.6 458.9L789.5 456.0L790.5 453.2L791.4 450.3L792.4 447.5L793.3 444.6L794.3 441.7L795.2 438.9L796.1 436.0L797.1 433.2L798.0 430.3L798.9 427.4L799.8 424.6L800.8 421.7L801.7 418.8L802.6 416.0L803.5 413.1L804.4 410.2L805.3 407.4L806.2 404.5L807.1 401.6L808.0 398.8L809.0 395.9L809.9 393.0L810.8 390.2L811.7 387.3L812.7 384.4L813.6 381.6L814.6 378.7L815.5 375.9L816.5 373.0L817.5 370.2L818.4 367.3L819.4 364.5L820.5 361.7L821.5 358.9L822.5 356.1L823.6 353.3L824.7 350.4L825.7 347.7L826.9 344.9L828.0 342.1L829.1 339.3L830.3 336.6L831.5 333.8L832.7 331.1L833.9 328.3L835.2 325.6L836.5 322.9L837.8 320.2L839.1 317.5L840.5 314.8L841.8 312.1L843.3 309.5L844.7 306.8L846.2 304.2L847.7 301.6L849.2 299.0L850.8 296.4L852.4 293.8L854.0 291.2L855.7 288.7L857.3 286.1L859.0 283.6L860.8 281.1L862.5 278.6L864.3 276.1L866.1 273.6L867.9 271.1L869.7 268.7L871.5 266.2L873.3 263.8L875.2 261.3L877.0 258.9L878.9 256.5L880.7 254.1L882.6 251.7L884.5 249.3L886.4 247.0L888.3 244.7L890.3 242.4L892.3 240.1L894.3 237.9L896.4 235.8L898.5 233.6L900.6 231.6L902.8 229.6L905.1 227.6L907.4 225.7L909.8 223.9L912.2 222.1L914.6 220.4L917.1 218.7L919.6 217.1L922.2 215.6L924.8 214.1L927.4 212.7L930.1 211.3L932.8 210.0L935.5 208.8L938.3 207.6L941.1 206.5L943.9 205.5L946.7 204.5L949.6 203.5L952.4 202.7L955.3 201.9L958.2 201.2L961.1 200.5L964.0 199.9L967.0 199.4L969.9 198.9L972.8 198.5L975.8 198.1L978.7 197.9L981.6 197.6L984.6 197.5L987.5 197.4L990.5 197.4L993.4 197.4L996.4 197.5L999.3 197.6L1002.3 197.8L1005.2 198.1L1008.1 198.4L1011.1 198.7L1014.0 199.1L1016.9 199.6L1019.9 200.1L1022.8 200.7L1025.7 201.3L1028.7 201.9L1031.6 202.6L1034.5 203.3L1037.4 204.1L1040.3 204.9L1043.2 205.8L1046.1 206.6L1049.0 207.6L1051.9 208.5L1054.8 209.5L1057.6 210.6L1060.5 211.6L1063.3 212.7L1066.2 213.9L1069.0 215.0L1071.9 216.2L1074.7 217.4L1077.5 218.6L1080.3 219.9L1083.1 221.2L1085.9 222.5L1088.6 223.8L1091.4 225.2L1094.2 226.5L1096.9 227.9L1099.6 229.3L1102.3 230.7L1105.0 232.2L1107.7 233.6L1110.4 235.1L1113.1 236.6L1115.7 238.1L1118.4 239.6L1121.0 241.1L1123.6 242.6L1126.2 244.2L1128.8 245.8L1131.3 247.4L1133.9 249.0L1136.4 250.6L1138.9 252.3L1141.4 253.9L1143.9 255.6L1146.4 257.3L1148.8 259.1L1151.3 260.8L1153.7 262.6L1156.1 264.3L1158.4 266.1L1160.8 268.0L1163.1 269.8L1165.5 271.7L1167.8 273.5L1170.1 275.4L1172.3 277.3L1174.6 279.3L1176.8 281.2L1179.0 283.2L1181.2 285.2L1183.3 287.2L1185.5 289.3L1187.6 291.4L1189.7 293.4L1191.8 295.6L1193.8 297.7L1195.9 299.8L1197.9 302.0L1199.9 304.2L1201.8 306.4L1203.8 308.7L1205.7 311.0L1207.6 313.2L1209.4 315.6L1211.3 317.9L1213.1 320.3L1214.9 322.6L1216.7 325.0L1218.4 327.4L1220.1 329.9L1221.9 332.3L1223.5 334.8L1225.2 337.3L1226.9 339.8L1228.5 342.3L1230.1 344.9L1231.7 347.4L1233.3 350.0L1234.9 352.6L1236.4 355.2L1237.9 357.8L1239.4 360.4L1240.9 363.0L1242.4 365.6L1243.9 368.3L1245.3 370.9L1246.8 373.6L1248.2 376.3L1249.6 378.9L1251.0 381.6L1252.4 384.3L1253.8 387.0L1255.1 389.7L1256.5 392.4L1257.8 395.1L1259.2 397.8L1260.5 400.6L1261.8 403.3L1263.1 406.0L1264.4 408.7L1265.7 411.5L1266.9 414.2L1268.2 416.9L1269.5 419.7L1270.7 422.4L1271.9 425.2L1273.1 427.9L1274.4 430.7L1275.6 433.4L1276.7 436.2L1277.9 439.0L1279.1 441.7L1280.3 444.5L1281.4 447.3L1282.6 450.1L1283.7 452.9L1284.8 455.6L1285.9 458.4L1287.1 461.2L1288.2 464.0L1289.3 466.8L1290.3 469.6L1291.4 472.4L1292.5 475.2L1293.5 478.0L1294.6 480.9L1295.6 483.7L1296.7 486.5L1297.7 489.3L1298.7 492.1L1299.7 495.0L1300.7 497.8L1301.7 500.6L1302.7 503.5L1303.7 506.3L1304.7 509.1L1305.7 512.0L1306.6 514.8L1307.6 517.7L1308.5 520.5L1309.5 523.4L1310.4 526.2L1311.4 529.1L1312.3 531.9L1313.2 534.8L1314.1 537.7L1315.0 540.5L1315.9 543.4L1316.8 546.3L1317.7 549.1L1318.6 552.0L1319.5 554.9L1320.3 557.8L1321.2 560.6L1322.1 563.5L1322.9 566.4L1323.8 569.3L1324.6 572.2L1325.5 575.1L1326.3 577.9L1327.1 580.8L1328.0 583.7L1328.8 586.6L1329.6 589.5L1330.4 592.4L1331.2 595.3L1332.0 598.2L1332.8 601.1L1333.6 604.0L1334.4 606.9L1335.2 609.8L1336.0 612.7L1336.8 615.6L1337.5 618.5L1338.3 621.5L1339.1 624.4L1339.9 627.3L1340.6 630.2L1341.4 633.1L1342.1 636.0L1342.9 638.9L1343.6 641.8L1344.4 644.8L1345.1 647.7L1345.9 650.6L1346.6 653.5L1347.4 656.4L1348.1 659.4L1348.8 662.3L1349.6 665.2L1350.3 668.1L1351.0 671.1L1351.8 674.0L1352.5 676.9L1353.2 679.8L1353.9 682.8L1354.7 685.7L1355.4 688.6L1356.1 691.5L1356.8 694.5L1357.5 697.4L1358.2 700.3L1359.0 703.2L1359.7 706.2L1360.4 709.1L1361.1 712.0L1361.8 714.9L1362.5 717.9L1363.2 720.8L1363.9 723.7L1364.6 726.7L1365.3 729.6L1366.1 732.5L1366.8 735.4L1367.5 738.4L1368.2 741.3L1368.9 744.2L1369.6 747.1L1370.3 750.1L1371.0 753.0L1371.7 755.9L1372.5 758.8L1373.2 761.8L1373.9 764.7L1374.6 767.6L1375.3 770.5L1376.0 773.4L1376.8 776.4L1377.5 779.3L1378.2 782.2L1378.9 785.1L1379.7 788.0L1380.4 790.9L1381.1 793.9L1381.9 796.8L1382.6 799.7L1383.3 802.6L1384.1 805.5L1384.8 808.4L1385.6 811.3L1386.3 814.2L1387.0 817.1L1387.8 820.0L1388.6 822.9L1389.3 825.8L1390.1 828.7L1390.8 831.6L1391.6 834.5L1392.4 837.4L1393.1 840.3L1393.9 843.2L1394.7 846.1L1395.5 849.0L1396.3 851.9L1397.1 854.8L1397.9 857.7L1398.7 860.5L1399.5 863.4L1400.3 866.3L1401.1 869.2L1401.9 872.1L1402.7 875.0L1403.5 877.8L1404.3 880.7L1405.1 883.6L1406.0 886.5L1406.8 889.3L1407.6 892.2L1408.4 895.1L1409.3 898.0L1410.1 900.8L1410.9 903.7L1411.8 906.6L1412.6 909.4L1413.5 912.3L1414.3 915.2L1415.2 918.0L1416.0 920.9L1416.9 923.8L1417.7 926.6L1418.6 929.5L1419.5 932.4L1420.3 935.2L1421.2 938.1L1422.1 941.0L1422.9 943.8L1423.8 946.7L1424.7 949.6L1425.5 952.4L1426.4 955.3L1427.3 958.2L1428.2 961.0L1429.1 963.9L1430.0 966.7L1430.8 969.6L1431.7 972.5L1432.6 975.3L1433.5 978.2L1434.4 981.1L1435.3 983.9L1436.2 986.8L1437.1 989.7L1438.0 992.5L1438.9 995.4L1439.8 998.3L1440.7 1001.1L1441.6 1004.0L1442.5 1006.9L1443.4 1009.7L1444.3 1012.6L1445.3 1015.5L1446.2 1018.3L1447.1 1021.2L1448.0 1024.1L1448.9 1026.9L1449.8 1029.8L1450.8 1032.7L1451.7 1035.6L1452.6 1038.4L1453.5 1041.3L1454.4 1044.2L1455.4 1047.1L1456.3 1049.9L1457.2 1052.8L1458.1 1055.7L1459.1 1058.6L1460.0 1061.5L1460.9 1064.3L1461.8 1067.2L1462.8 1070.1L1463.7 1073.0L1464.6 1075.9L1465.6 1078.8L1466.5 1081.7L1467.4 1084.6L1468.3 1087.5L1469.3 1090.4L1470.2 1093.3L1471.1 1096.2L1472.1 1099.1L1473.0 1102.0L1473.9 1104.9L1474.9 1107.8L1475.8 1110.7L1476.7 1113.6L1477.7 1116.5L1478.6 1119.4L1479.6 1122.3L1480.5 1125.2L1481.5 1128.1L1482.5 1131.0L1483.4 1133.9L1484.4 1136.8L1485.4 1139.6L1486.4 1142.5L1487.4 1145.4L1488.5 1148.2L1489.5 1151.1L1490.5 1153.9L1491.6 1156.8L1492.7 1159.6L1493.8 1162.4L1494.9 1165.2L1496.1 1168.0L1497.2 1170.8L1498.4 1173.5L1499.6 1176.3L1500.8 1179.0L1502.1 1181.7L1503.4 1184.4L1504.7 1187.1L1506.0 1189.8L1507.3 1192.4L1508.7 1195.1L1510.1 1197.7L1511.5 1200.3L1513.0 1202.8L1514.5 1205.4L1516.0 1207.9L1517.6 1210.4L1519.2 1212.9L1520.8 1215.3L1522.5 1217.8L1524.2 1220.2L1525.9 1222.6L1527.7 1224.9L1529.5 1227.2L1531.4 1229.5L1533.3 1231.8L1535.2 1234.1L1537.2 1236.3L1539.2 1238.4L1541.3 1240.6L1543.4 1242.7L1545.5 1244.8L1547.7 1246.8L1550.0 1248.8L1552.3 1250.8L1554.6 1252.7L1557.0 1254.5L1559.4 1256.3L1561.8 1258.1L1564.3 1259.8L1566.8 1261.4L1569.3 1263.0L1571.9 1264.5L1574.6 1265.9L1577.2 1267.3L1579.9 1268.6L1582.6 1269.8L1585.4 1270.9L1588.2 1272.0L1591.0 1273.0L1593.9 1273.9L1596.7 1274.7L1599.6 1275.4L1602.6 1276.0L1605.5 1276.5L1608.5 1277.0L1611.5 1277.4L1614.5 1277.7L1617.6 1278.0L1620.6 1278.2L1623.7 1278.4L1626.8 1278.5L1629.8 1278.6L1632.9 1278.6L1636.0 1278.6L1639.1 1278.6L1642.2 1278.6L1645.3 1278.6L1648.3 1278.5L1651.4 1278.4L1654.5 1278.4L1657.5 1278.3L1660.5 1278.3L1663.6 1278.2L1666.6 1278.2L1669.5 1278.2L1672.5 1278.3L1675.4 1278.4L1678.3 1278.5L1681.2 1278.6L1684.1 1279.0L1941.0 1279.0"/>
<path stroke="#37AD6B" d="M256.0 1277.9L260.2 1278.1L263.2 1278.2L266.3 1278.3L269.3 1278.3L272.3 1278.2L275.3 1278.1L278.4 1277.9L281.4 1277.6L284.4 1277.3L287.4 1276.9L290.4 1276.5L293.4 1276.0L296.4 1275.4L299.4 1274.8L302.4 1274.2L305.4 1273.5L308.3 1272.7L311.3 1271.9L314.2 1271.1L317.1 1270.2L320.0 1269.3L322.9 1268.3L325.7 1267.2L328.6 1266.2L331.4 1265.1L334.2 1263.9L337.0 1262.7L339.7 1261.5L342.5 1260.3L345.2 1259.0L347.8 1257.7L350.5 1256.3L353.1 1254.9L355.7 1253.5L358.3 1252.0L360.9 1250.5L363.4 1249.0L365.9 1247.5L368.4 1245.9L370.9 1244.3L373.3 1242.6L375.7 1240.9L378.1 1239.2L380.5 1237.5L382.9 1235.7L385.2 1234.0L387.5 1232.2L389.8 1230.3L392.1 1228.4L394.4 1226.6L396.6 1224.6L398.8 1222.7L401.0 1220.7L403.2 1218.7L405.4 1216.7L407.5 1214.7L409.7 1212.6L411.8 1210.6L413.9 1208.5L415.9 1206.3L418.0 1204.2L420.1 1202.0L422.1 1199.9L424.1 1197.7L426.1 1195.4L428.1 1193.2L430.0 1190.9L432.0 1188.7L433.9 1186.4L435.9 1184.1L437.8 1181.7L439.7 1179.4L441.5 1177.1L443.4 1174.7L445.3 1172.3L447.1 1169.9L448.9 1167.5L450.8 1165.1L452.6 1162.6L454.4 1160.2L456.1 1157.7L457.9 1155.3L459.7 1152.8L461.4 1150.3L463.2 1147.8L464.9 1145.3L466.6 1142.8L468.3 1140.2L470.0 1137.7L471.7 1135.2L473.4 1132.6L475.1 1130.1L476.7 1127.5L478.4 1125.0L480.1 1122.4L481.7 1119.8L483.3 1117.2L485.0 1114.6L486.6 1112.1L488.2 1109.5L489.8 1106.9L491.4 1104.3L493.0 1101.7L494.6 1099.1L496.2 1096.5L497.8 1093.9L499.4 1091.3L501.0 1088.7L502.5 1086.1L504.1 1083.5L505.7 1080.9L507.2 1078.3L508.8 1075.7L510.3 1073.1L511.9 1070.5L513.4 1067.9L514.9 1065.3L516.5 1062.7L518.0 1060.1L519.5 1057.5L521.1 1054.9L522.6 1052.3L524.1 1049.7L525.6 1047.1L527.1 1044.5L528.6 1041.9L530.1 1039.3L531.6 1036.7L533.1 1034.1L534.6 1031.5L536.1 1028.9L537.5 1026.3L539.0 1023.6L540.5 1021.0L542.0 1018.4L543.4 1015.8L544.9 1013.2L546.4 1010.6L547.8 1008.0L549.3 1005.4L550.8 1002.7L552.2 1000.1L553.7 997.5L555.1 994.9L556.6 992.3L558.0 989.7L559.5 987.0L560.9 984.4L562.3 981.8L563.8 979.2L565.2 976.6L566.7 973.9L568.1 971.3L569.5 968.7L571.0 966.1L572.4 963.5L573.8 960.8L575.2 958.2L576.7 955.6L578.1 953.0L579.5 950.3L580.9 947.7L582.4 945.1L583.8 942.5L585.2 939.8L586.6 937.2L588.0 934.6L589.5 931.9L590.9 929.3L592.3 926.7L593.7 924.0L595.1 921.4L596.6 918.8L598.0 916.1L599.4 913.5L600.8 910.9L602.2 908.2L603.6 905.6L605.1 903.0L606.5 900.3L607.9 897.7L609.3 895.1L610.7 892.4L612.2 889.8L613.6 887.1L615.0 884.5L616.4 881.9L617.8 879.2L619.3 876.6L620.7 873.9L622.1 871.3L623.5 868.6L624.9 866.0L626.4 863.4L627.8 860.7L629.2 858.1L630.6 855.4L632.0 852.8L633.5 850.1L634.9 847.5L636.3 844.8L637.7 842.2L639.1 839.5L640.5 836.8L642.0 834.2L643.4 831.5L644.8 828.9L646.2 826.2L647.6 823.6L649.0 820.9L650.4 818.2L651.8 815.6L653.2 812.9L654.6 810.2L656.0 807.6L657.4 804.9L658.8 802.2L660.2 799.6L661.6 796.9L663.0 794.2L664.4 791.6L665.8 788.9L667.2 786.2L668.6 783.5L669.9 780.9L671.3 778.2L672.7 775.5L674.1 772.8L675.5 770.1L676.8 767.5L678.2 764.8L679.6 762.1L680.9 759.4L682.3 756.7L683.7 754.0L685.0 751.3L686.4 748.6L687.7 746.0L689.1 743.3L690.4 740.6L691.8 737.9L693.1 735.2L694.5 732.5L695.8 729.8L697.1 727.1L698.5 724.4L699.8 721.6L701.1 718.9L702.4 716.2L703.7 713.5L705.0 710.8L706.4 708.1L707.7 705.4L709.0 702.7L710.3 699.9L711.6 697.2L712.8 694.5L714.1 691.8L715.4 689.0L716.7 686.3L718.0 683.6L719.2 680.9L720.5 678.1L721.8 675.4L723.0 672.7L724.3 669.9L725.5 667.2L726.8 664.4L728.0 661.7L729.3 658.9L730.5 656.2L731.7 653.5L732.9 650.7L734.2 647.9L735.4 645.2L736.6 642.4L737.8 639.7L739.0 636.9L740.2 634.2L741.4 631.4L742.6 628.6L743.7 625.9L744.9 623.1L746.1 620.3L747.2 617.5L748.4 614.8L749.6 612.0L750.7 609.2L751.8 606.4L753.0 603.6L754.1 600.9L755.2 598.1L756.4 595.3L757.5 592.5L758.6 589.7L759.7 586.9L760.8 584.1L761.9 581.3L762.9 578.5L764.0 575.7L765.1 572.9L766.2 570.0L767.2 567.2L768.3 564.4L769.3 561.6L770.3 558.8L771.4 556.0L772.4 553.1L773.4 550.3L774.4 547.5L775.4 544.6L776.4 541.8L777.4 539.0L778.4 536.1L779.4 533.3L780.4 530.4L781.3 527.6L782.3 524.7L783.3 521.9L784.2 519.0L785.2 516.2L786.1 513.3L787.0 510.5L788.0 507.6L788.9 504.8L789.8 501.9L790.8 499.1L791.7 496.2L792.6 493.3L793.5 490.5L794.5 487.6L795.4 484.8L796.3 481.9L797.2 479.1L798.2 476.2L799.1 473.3L800.0 470.5L801.0 467.6L801.9 464.8L802.8 461.9L803.8 459.1L804.7 456.3L805.7 453.4L806.6 450.6L807.6 447.7L808.5 444.9L809.5 442.1L810.4 439.2L811.4 436.4L812.4 433.6L813.4 430.7L814.4 427.9L815.4 425.1L816.4 422.3L817.4 419.5L818.4 416.7L819.5 413.9L820.5 411.1L821.6 408.3L822.6 405.5L823.7 402.7L824.8 400.0L825.9 397.2L827.0 394.4L828.1 391.7L829.2 388.9L830.4 386.1L831.5 383.4L832.7 380.7L833.9 377.9L835.1 375.2L836.3 372.5L837.5 369.8L838.8 367.1L840.0 364.4L841.3 361.7L842.6 359.0L843.9 356.3L845.2 353.6L846.5 351.0L847.9 348.3L849.2 345.6L850.6 342.9L851.9 340.2L853.3 337.5L854.6 334.7L856.0 332.0L857.4 329.2L858.7 326.5L860.1 323.7L861.5 320.9L862.9 318.2L864.4 315.4L865.8 312.7L867.3 309.9L868.7 307.2L870.2 304.5L871.7 301.7L873.3 299.1L874.8 296.4L876.4 293.7L878.0 291.1L879.6 288.5L881.3 285.9L882.9 283.4L884.7 280.9L886.4 278.4L888.2 276.0L890.0 273.6L891.8 271.2L893.7 268.9L895.7 266.7L897.6 264.5L899.6 262.3L901.7 260.2L903.8 258.2L905.9 256.2L908.1 254.3L910.3 252.4L912.6 250.6L914.9 248.9L917.3 247.3L919.8 245.7L922.3 244.2L924.8 242.8L927.4 241.4L930.0 240.1L932.7 238.9L935.4 237.8L938.2 236.7L941.0 235.7L943.8 234.8L946.7 234.0L949.6 233.2L952.5 232.5L955.4 231.8L958.4 231.2L961.3 230.7L964.3 230.3L967.3 229.9L970.4 229.6L973.4 229.4L976.4 229.2L979.5 229.1L982.5 229.1L985.5 229.1L988.6 229.2L991.6 229.4L994.6 229.6L997.6 229.9L1000.6 230.3L1003.6 230.7L1006.6 231.2L1009.5 231.7L1012.4 232.3L1015.4 233.0L1018.3 233.7L1021.2 234.5L1024.0 235.3L1026.9 236.2L1029.7 237.1L1032.5 238.1L1035.4 239.1L1038.2 240.2L1040.9 241.4L1043.7 242.5L1046.4 243.8L1049.2 245.0L1051.9 246.3L1054.6 247.7L1057.3 249.0L1060.0 250.5L1062.6 251.9L1065.2 253.4L1067.9 255.0L1070.5 256.5L1073.1 258.1L1075.6 259.8L1078.2 261.4L1080.7 263.1L1083.3 264.8L1085.8 266.6L1088.3 268.3L1090.8 270.1L1093.2 271.9L1095.7 273.8L1098.1 275.6L1100.5 277.5L1102.9 279.4L1105.3 281.3L1107.7 283.2L1110.0 285.1L1112.4 287.1L1114.7 289.1L1117.0 291.1L1119.3 293.1L1121.5 295.1L1123.8 297.1L1126.0 299.2L1128.2 301.3L1130.4 303.4L1132.6 305.5L1134.8 307.6L1136.9 309.7L1139.0 311.9L1141.1 314.1L1143.2 316.3L1145.2 318.5L1147.3 320.7L1149.3 322.9L1151.3 325.2L1153.2 327.4L1155.2 329.7L1157.1 332.0L1159.0 334.3L1160.9 336.7L1162.8 339.0L1164.6 341.4L1166.4 343.7L1168.2 346.1L1170.0 348.5L1171.7 351.0L1173.4 353.4L1175.1 355.8L1176.8 358.3L1178.5 360.8L1180.1 363.3L1181.7 365.8L1183.3 368.3L1184.9 370.8L1186.4 373.4L1187.9 375.9L1189.4 378.5L1190.9 381.1L1192.4 383.6L1193.8 386.2L1195.2 388.9L1196.6 391.5L1198.0 394.1L1199.4 396.8L1200.8 399.4L1202.1 402.1L1203.4 404.7L1204.7 407.4L1206.0 410.1L1207.3 412.8L1208.5 415.5L1209.8 418.3L1211.0 421.0L1212.2 423.7L1213.4 426.5L1214.6 429.2L1215.8 432.0L1217.0 434.7L1218.1 437.5L1219.3 440.3L1220.4 443.1L1221.5 445.8L1222.6 448.6L1223.7 451.4L1224.8 454.2L1225.9 457.1L1226.9 459.9L1228.0 462.7L1229.0 465.5L1230.1 468.3L1231.1 471.2L1232.1 474.0L1233.1 476.8L1234.1 479.7L1235.1 482.5L1236.1 485.4L1237.1 488.2L1238.1 491.1L1239.1 493.9L1240.1 496.8L1241.0 499.6L1242.0 502.5L1243.0 505.4L1243.9 508.2L1244.9 511.1L1245.8 513.9L1246.8 516.8L1247.7 519.7L1248.6 522.5L1249.6 525.4L1250.5 528.3L1251.4 531.1L1252.3 534.0L1253.3 536.9L1254.2 539.8L1255.1 542.6L1256.0 545.5L1256.9 548.4L1257.8 551.3L1258.7 554.2L1259.6 557.0L1260.5 559.9L1261.4 562.8L1262.2 565.7L1263.1 568.6L1264.0 571.4L1264.9 574.3L1265.7 577.2L1266.6 580.1L1267.5 583.0L1268.3 585.9L1269.2 588.8L1270.0 591.7L1270.9 594.6L1271.7 597.4L1272.6 600.3L1273.4 603.2L1274.2 606.1L1275.1 609.0L1275.9 611.9L1276.7 614.8L1277.6 617.7L1278.4 620.6L1279.2 623.5L1280.0 626.4L1280.8 629.3L1281.7 632.2L1282.5 635.1L1283.3 638.0L1284.1 640.9L1284.9 643.8L1285.7 646.7L1286.5 649.6L1287.3 652.5L1288.1 655.4L1288.9 658.4L1289.7 661.3L1290.5 664.2L1291.3 667.1L1292.1 670.0L1292.8 672.9L1293.6 675.8L1294.4 678.7L1295.2 681.6L1296.0 684.5L1296.7 687.4L1297.5 690.3L1298.3 693.3L1299.1 696.2L1299.8 699.1L1300.6 702.0L1301.4 704.9L1302.1 707.8L1302.9 710.7L1303.7 713.6L1304.4 716.5L1305.2 719.5L1306.0 722.4L1306.7 725.3L1307.5 728.2L1308.2 731.1L1309.0 734.0L1309.8 736.9L1310.5 739.9L1311.3 742.8L1312.0 745.7L1312.8 748.6L1313.5 751.5L1314.3 754.4L1315.0 757.3L1315.8 760.2L1316.5 763.2L1317.3 766.1L1318.0 769.0L1318.8 771.9L1319.5 774.8L1320.3 777.7L1321.0 780.6L1321.8 783.5L1322.5 786.5L1323.3 789.4L1324.0 792.3L1324.8 795.2L1325.5 798.1L1326.3 801.0L1327.0 803.9L1327.8 806.8L1328.5 809.7L1329.3 812.7L1330.0 815.6L1330.8 818.5L1331.5 821.4L1332.3 824.3L1333.0 827.2L1333.8 830.1L1334.5 833.0L1335.3 835.9L1336.1 838.8L1336.8 841.7L1337.6 844.6L1338.3 847.5L1339.1 850.4L1339.8 853.3L1340.6 856.2L1341.4 859.1L1342.1 862.0L1342.9 864.9L1343.6 867.9L1344.4 870.7L1345.2 873.6L1345.9 876.5L1346.7 879.4L1347.5 882.3L1348.3 885.2L1349.0 888.1L1349.8 891.0L1350.6 893.9L1351.4 896.8L1352.1 899.7L1352.9 902.6L1353.7 905.5L1354.5 908.4L1355.3 911.3L1356.1 914.2L1356.8 917.0L1357.6 919.9L1358.4 922.8L1359.2 925.7L1360.0 928.6L1360.8 931.5L1361.6 934.3L1362.4 937.2L1363.2 940.1L1364.0 943.0L1364.8 945.9L1365.7 948.7L1366.5 951.6L1367.3 954.5L1368.1 957.4L1368.9 960.2L1369.8 963.1L1370.6 966.0L1371.4 968.8L1372.3 971.7L1373.1 974.6L1373.9 977.4L1374.8 980.3L1375.6 983.2L1376.5 986.0L1377.3 988.9L1378.2 991.7L1379.0 994.6L1379.9 997.5L1380.7 1000.3L1381.6 1003.2L1382.5 1006.0L1383.3 1008.9L1384.2 1011.7L1385.1 1014.6L1386.0 1017.4L1386.9 1020.3L1387.8 1023.1L1388.7 1026.0L1389.6 1028.8L1390.5 1031.7L1391.4 1034.5L1392.3 1037.4L1393.2 1040.2L1394.1 1043.1L1395.0 1045.9L1396.0 1048.8L1396.9 1051.6L1397.8 1054.5L1398.8 1057.3L1399.7 1060.1L1400.7 1063.0L1401.6 1065.8L1402.6 1068.7L1403.6 1071.5L1404.6 1074.4L1405.5 1077.2L1406.5 1080.0L1407.5 1082.9L1408.5 1085.7L1409.5 1088.6L1410.5 1091.4L1411.5 1094.2L1412.5 1097.1L1413.5 1099.9L1414.6 1102.8L1415.6 1105.6L1416.6 1108.4L1417.7 1111.3L1418.7 1114.1L1419.8 1117.0L1420.8 1119.8L1421.9 1122.6L1423.0 1125.5L1424.1 1128.3L1425.1 1131.2L1426.2 1134.0L1427.3 1136.9L1428.4 1139.7L1429.5 1142.5L1430.7 1145.4L1431.8 1148.2L1432.9 1151.1L1434.1 1153.9L1435.2 1156.8L1436.4 1159.6L1437.5 1162.5L1438.7 1165.3L1439.9 1168.2L1441.0 1171.0L1442.2 1173.9L1443.4 1176.7L1444.6 1179.6L1445.8 1182.4L1447.1 1185.2L1448.3 1188.1L1449.6 1190.9L1450.9 1193.7L1452.2 1196.5L1453.5 1199.2L1454.8 1202.0L1456.2 1204.7L1457.6 1207.4L1459.0 1210.1L1460.5 1212.7L1461.9 1215.4L1463.5 1217.9L1465.0 1220.5L1466.6 1223.0L1468.2 1225.5L1469.9 1227.9L1471.6 1230.3L1473.3 1232.7L1475.1 1235.0L1476.9 1237.2L1478.8 1239.5L1480.7 1241.6L1482.7 1243.7L1484.7 1245.8L1486.8 1247.7L1488.9 1249.7L1491.1 1251.5L1493.3 1253.3L1495.6 1255.0L1498.0 1256.7L1500.4 1258.3L1502.9 1259.8L1505.4 1261.3L1508.0 1262.7L1510.6 1264.0L1513.3 1265.3L1516.0 1266.5L1518.8 1267.6L1521.6 1268.7L1524.4 1269.7L1527.3 1270.7L1530.2 1271.6L1533.1 1272.5L1536.1 1273.3L1539.1 1274.1L1542.1 1274.8L1545.1 1275.4L1548.1 1276.0L1551.2 1276.6L1554.3 1277.1L1557.3 1277.6L1560.4 1278.0L1563.5 1278.4L1566.6 1278.7L1569.7 1279.0L1572.8 1279.0L1575.9 1279.0L1579.0 1279.0L1582.1 1279.0L1585.2 1279.0L1588.3 1279.0L1591.3 1279.0L1594.3 1279.0L1597.4 1279.0L1600.4 1279.0L1603.3 1279.0L1606.3 1279.0L1609.2 1279.0L1612.1 1279.0L1614.9 1279.0L1617.7 1278.9L1620.5 1278.6L1623.2 1279.0L1941.0 1279.0"/>
<path stroke="#B177DE" d="M256.0 1278.2L260.3 1278.4L263.2 1278.5L266.2 1278.6L269.1 1278.6L272.1 1278.6L275.1 1278.6L278.1 1278.5L281.1 1278.3L284.2 1278.1L287.2 1277.8L290.2 1277.5L293.3 1277.2L296.3 1276.8L299.4 1276.4L302.4 1275.9L305.4 1275.4L308.4 1274.8L311.5 1274.2L314.5 1273.5L317.5 1272.8L320.5 1272.1L323.4 1271.3L326.4 1270.4L329.3 1269.6L332.2 1268.7L335.1 1267.7L338.0 1266.7L340.9 1265.7L343.7 1264.6L346.5 1263.5L349.2 1262.4L352.0 1261.2L354.7 1260.0L357.4 1258.7L360.1 1257.4L362.7 1256.1L365.3 1254.7L367.9 1253.3L370.5 1251.9L373.1 1250.4L375.6 1248.9L378.1 1247.4L380.6 1245.8L383.0 1244.2L385.5 1242.6L387.9 1240.9L390.3 1239.2L392.7 1237.5L395.0 1235.8L397.4 1234.0L399.7 1232.2L402.0 1230.4L404.2 1228.5L406.5 1226.6L408.7 1224.7L410.9 1222.8L413.1 1220.8L415.3 1218.8L417.5 1216.8L419.6 1214.7L421.7 1212.7L423.9 1210.6L425.9 1208.5L428.0 1206.4L430.1 1204.2L432.1 1202.1L434.1 1199.9L436.2 1197.7L438.1 1195.4L440.1 1193.2L442.1 1190.9L444.0 1188.6L446.0 1186.3L447.9 1184.0L449.8 1181.7L451.7 1179.3L453.6 1176.9L455.4 1174.6L457.3 1172.2L459.1 1169.8L461.0 1167.3L462.8 1164.9L464.6 1162.4L466.4 1160.0L468.2 1157.5L469.9 1155.0L471.7 1152.5L473.4 1150.0L475.2 1147.5L476.9 1145.0L478.6 1142.5L480.3 1139.9L482.0 1137.4L483.7 1134.8L485.4 1132.3L487.1 1129.7L488.8 1127.1L490.4 1124.6L492.1 1122.0L493.7 1119.4L495.4 1116.8L497.0 1114.2L498.6 1111.6L500.2 1109.0L501.9 1106.4L503.5 1103.8L505.1 1101.2L506.7 1098.6L508.2 1096.0L509.8 1093.4L511.4 1090.8L513.0 1088.2L514.6 1085.6L516.1 1083.0L517.7 1080.4L519.3 1077.8L520.8 1075.2L522.4 1072.6L523.9 1070.0L525.5 1067.4L527.0 1064.8L528.5 1062.2L530.1 1059.6L531.6 1057.0L533.1 1054.4L534.6 1051.8L536.1 1049.2L537.7 1046.6L539.2 1044.0L540.7 1041.4L542.2 1038.8L543.7 1036.2L545.2 1033.6L546.7 1031.0L548.2 1028.4L549.7 1025.8L551.1 1023.2L552.6 1020.6L554.1 1018.0L555.6 1015.4L557.1 1012.8L558.5 1010.2L560.0 1007.5L561.5 1004.9L563.0 1002.3L564.4 999.7L565.9 997.1L567.4 994.5L568.8 991.9L570.3 989.3L571.8 986.7L573.2 984.1L574.7 981.5L576.1 978.9L577.6 976.3L579.0 973.7L580.5 971.1L582.0 968.5L583.4 965.9L584.9 963.3L586.3 960.7L587.8 958.1L589.2 955.4L590.7 952.8L592.1 950.2L593.6 947.6L595.0 945.0L596.5 942.4L597.9 939.8L599.4 937.2L600.8 934.6L602.3 932.0L603.7 929.4L605.2 926.8L606.7 924.1L608.1 921.5L609.6 918.9L611.0 916.3L612.5 913.7L613.9 911.1L615.4 908.5L616.9 905.9L618.3 903.3L619.8 900.6L621.3 898.0L622.7 895.4L624.2 892.8L625.7 890.2L627.2 887.6L628.6 885.0L630.1 882.3L631.6 879.7L633.1 877.1L634.6 874.5L636.0 871.9L637.5 869.3L639.0 866.6L640.5 864.0L642.0 861.4L643.4 858.8L644.9 856.2L646.4 853.5L647.9 850.9L649.4 848.3L650.9 845.7L652.3 843.0L653.8 840.4L655.3 837.8L656.8 835.2L658.3 832.5L659.8 829.9L661.2 827.3L662.7 824.7L664.2 822.0L665.7 819.4L667.2 816.8L668.6 814.1L670.1 811.5L671.6 808.8L673.0 806.2L674.5 803.6L676.0 800.9L677.4 798.3L678.9 795.6L680.4 793.0L681.8 790.4L683.3 787.7L684.7 785.1L686.2 782.4L687.6 779.8L689.1 777.1L690.5 774.5L692.0 771.8L693.4 769.1L694.9 766.5L696.3 763.8L697.7 761.2L699.2 758.5L700.6 755.8L702.0 753.2L703.4 750.5L704.8 747.8L706.2 745.2L707.6 742.5L709.1 739.8L710.5 737.1L711.8 734.5L713.2 731.8L714.6 729.1L716.0 726.4L717.4 723.7L718.8 721.1L720.1 718.4L721.5 715.7L722.9 713.0L724.2 710.3L725.6 707.6L726.9 704.9L728.3 702.2L729.6 699.5L730.9 696.8L732.2 694.1L733.6 691.4L734.9 688.7L736.2 686.0L737.5 683.2L738.8 680.5L740.1 677.8L741.4 675.1L742.6 672.4L743.9 669.6L745.2 666.9L746.4 664.2L747.7 661.4L748.9 658.7L750.2 656.0L751.4 653.2L752.6 650.5L753.9 647.7L755.1 645.0L756.3 642.2L757.5 639.5L758.7 636.7L759.9 634.0L761.1 631.2L762.3 628.5L763.4 625.7L764.6 622.9L765.8 620.2L766.9 617.4L768.1 614.6L769.2 611.9L770.4 609.1L771.5 606.3L772.7 603.5L773.8 600.8L774.9 598.0L776.0 595.2L777.2 592.4L778.3 589.6L779.4 586.8L780.5 584.1L781.6 581.3L782.7 578.5L783.8 575.7L784.9 572.9L786.0 570.1L787.1 567.3L788.1 564.5L789.2 561.7L790.3 558.9L791.4 556.1L792.5 553.3L793.5 550.5L794.6 547.7L795.7 544.9L796.7 542.1L797.8 539.3L798.8 536.5L799.9 533.7L800.9 530.9L802.0 528.1L803.1 525.2L804.1 522.4L805.1 519.6L806.2 516.8L807.2 514.0L808.3 511.2L809.3 508.4L810.4 505.6L811.4 502.7L812.5 499.9L813.5 497.1L814.5 494.3L815.6 491.5L816.6 488.7L817.6 485.8L818.7 483.0L819.7 480.2L820.8 477.4L821.8 474.6L822.8 471.8L823.9 468.9L824.9 466.1L826.0 463.3L827.0 460.5L828.0 457.7L829.1 454.9L830.1 452.0L831.2 449.2L832.2 446.4L833.3 443.6L834.3 440.8L835.4 438.0L836.4 435.2L837.5 432.3L838.5 429.5L839.6 426.7L840.7 423.9L841.7 421.1L842.8 418.3L843.9 415.5L844.9 412.7L846.0 409.9L847.1 407.1L848.2 404.3L849.3 401.5L850.4 398.7L851.5 395.9L852.6 393.1L853.7 390.3L854.9 387.5L856.0 384.8L857.2 382.0L858.3 379.2L859.5 376.5L860.7 373.7L861.9 371.0L863.1 368.3L864.4 365.5L865.6 362.8L866.9 360.1L868.2 357.4L869.5 354.7L870.8 352.0L872.1 349.4L873.5 346.7L874.9 344.1L876.3 341.4L877.8 338.8L879.2 336.2L880.7 333.6L882.3 331.0L883.9 328.5L885.5 325.9L887.1 323.4L888.8 320.8L890.5 318.3L892.3 315.9L894.1 313.4L896.0 310.9L897.9 308.5L899.8 306.1L901.8 303.7L903.9 301.3L906.0 299.0L908.1 296.7L910.3 294.4L912.6 292.1L914.9 289.9L917.3 287.8L919.7 285.8L922.1 283.8L924.6 281.9L927.1 280.2L929.6 278.5L932.2 277.0L934.8 275.6L937.4 274.3L940.1 273.1L942.8 272.1L945.5 271.2L948.2 270.4L951.0 269.7L953.7 269.1L956.5 268.6L959.3 268.3L962.2 268.0L965.0 267.8L967.9 267.8L970.7 267.8L973.6 267.9L976.5 268.1L979.4 268.4L982.2 268.8L985.1 269.3L988.0 269.8L990.9 270.4L993.8 271.1L996.7 271.9L999.6 272.8L1002.5 273.7L1005.4 274.7L1008.3 275.7L1011.1 276.8L1014.0 278.0L1016.8 279.2L1019.6 280.5L1022.4 281.9L1025.2 283.3L1028.0 284.7L1030.7 286.2L1033.5 287.7L1036.2 289.3L1038.9 290.9L1041.5 292.5L1044.1 294.2L1046.7 295.9L1049.3 297.6L1051.8 299.4L1054.3 301.2L1056.8 303.0L1059.2 304.9L1061.6 306.7L1064.0 308.6L1066.4 310.5L1068.7 312.5L1071.0 314.5L1073.2 316.4L1075.4 318.5L1077.6 320.5L1079.8 322.5L1081.9 324.6L1084.0 326.7L1086.1 328.9L1088.2 331.0L1090.2 333.2L1092.2 335.4L1094.2 337.6L1096.1 339.8L1098.1 342.0L1100.0 344.3L1101.8 346.6L1103.7 348.9L1105.5 351.2L1107.3 353.6L1109.1 355.9L1110.8 358.3L1112.6 360.7L1114.3 363.1L1116.0 365.5L1117.6 368.0L1119.3 370.4L1120.9 372.9L1122.5 375.4L1124.1 377.9L1125.7 380.4L1127.2 383.0L1128.7 385.5L1130.2 388.1L1131.7 390.7L1133.2 393.3L1134.6 395.9L1136.0 398.5L1137.5 401.1L1138.9 403.7L1140.2 406.4L1141.6 409.1L1142.9 411.7L1144.3 414.4L1145.6 417.1L1146.9 419.8L1148.2 422.5L1149.4 425.3L1150.7 428.0L1151.9 430.7L1153.2 433.5L1154.4 436.2L1155.6 439.0L1156.8 441.8L1158.0 444.6L1159.1 447.3L1160.3 450.1L1161.5 452.9L1162.6 455.7L1163.7 458.6L1164.8 461.4L1165.9 464.2L1167.0 467.0L1168.1 469.9L1169.2 472.7L1170.3 475.5L1171.3 478.4L1172.4 481.2L1173.5 484.1L1174.5 486.9L1175.5 489.8L1176.6 492.6L1177.6 495.5L1178.6 498.3L1179.6 501.2L1180.6 504.1L1181.6 506.9L1182.6 509.8L1183.6 512.7L1184.6 515.5L1185.6 518.4L1186.6 521.2L1187.6 524.1L1188.5 527.0L1189.5 529.9L1190.5 532.7L1191.4 535.6L1192.4 538.5L1193.3 541.3L1194.3 544.2L1195.2 547.1L1196.1 550.0L1197.1 552.8L1198.0 555.7L1198.9 558.6L1199.8 561.5L1200.7 564.3L1201.7 567.2L1202.6 570.1L1203.5 573.0L1204.4 575.9L1205.3 578.7L1206.1 581.6L1207.0 584.5L1207.9 587.4L1208.8 590.3L1209.7 593.2L1210.5 596.1L1211.4 598.9L1212.3 601.8L1213.1 604.7L1214.0 607.6L1214.9 610.5L1215.7 613.4L1216.6 616.3L1217.4 619.2L1218.2 622.1L1219.1 624.9L1219.9 627.8L1220.7 630.7L1221.6 633.6L1222.4 636.5L1223.2 639.4L1224.1 642.3L1224.9 645.2L1225.7 648.1L1226.5 651.0L1227.3 653.9L1228.1 656.8L1228.9 659.7L1229.7 662.6L1230.5 665.5L1231.3 668.4L1232.1 671.3L1232.9 674.2L1233.7 677.1L1234.5 680.0L1235.3 682.9L1236.1 685.8L1236.9 688.7L1237.7 691.6L1238.4 694.5L1239.2 697.4L1240.0 700.3L1240.8 703.2L1241.6 706.1L1242.3 709.0L1243.1 711.9L1243.9 714.8L1244.6 717.7L1245.4 720.6L1246.2 723.5L1246.9 726.4L1247.7 729.3L1248.5 732.2L1249.2 735.1L1250.0 738.0L1250.8 741.0L1251.5 743.9L1252.3 746.8L1253.0 749.7L1253.8 752.6L1254.5 755.5L1255.3 758.4L1256.0 761.3L1256.8 764.2L1257.5 767.1L1258.3 770.0L1259.1 772.9L1259.8 775.8L1260.6 778.7L1261.3 781.6L1262.1 784.5L1262.8 787.4L1263.6 790.3L1264.3 793.3L1265.0 796.2L1265.8 799.1L1266.5 802.0L1267.3 804.9L1268.0 807.8L1268.8 810.7L1269.5 813.6L1270.3 816.5L1271.0 819.4L1271.8 822.3L1272.5 825.2L1273.3 828.1L1274.1 831.0L1274.8 833.9L1275.6 836.8L1276.3 839.7L1277.1 842.6L1277.8 845.5L1278.6 848.4L1279.3 851.3L1280.1 854.2L1280.9 857.1L1281.6 860.0L1282.4 862.9L1283.1 865.8L1283.9 868.7L1284.7 871.6L1285.4 874.5L1286.2 877.4L1287.0 880.3L1287.7 883.2L1288.5 886.1L1289.3 889.0L1290.1 891.9L1290.8 894.8L1291.6 897.7L1292.4 900.6L1293.2 903.5L1294.0 906.4L1294.7 909.3L1295.5 912.2L1296.3 915.0L1297.1 917.9L1297.9 920.8L1298.7 923.7L1299.5 926.6L1300.3 929.5L1301.1 932.4L1301.9 935.3L1302.7 938.2L1303.5 941.0L1304.3 943.9L1305.1 946.8L1306.0 949.7L1306.8 952.6L1307.6 955.5L1308.4 958.3L1309.2 961.2L1310.1 964.1L1310.9 967.0L1311.7 969.9L1312.6 972.7L1313.4 975.6L1314.3 978.5L1315.1 981.4L1316.0 984.2L1316.8 987.1L1317.7 990.0L1318.5 992.9L1319.4 995.7L1320.3 998.6L1321.1 1001.5L1322.0 1004.4L1322.9 1007.2L1323.8 1010.1L1324.7 1013.0L1325.6 1015.8L1326.4 1018.7L1327.3 1021.6L1328.2 1024.4L1329.1 1027.3L1330.1 1030.2L1331.0 1033.0L1331.9 1035.9L1332.8 1038.7L1333.7 1041.6L1334.6 1044.5L1335.6 1047.3L1336.5 1050.2L1337.5 1053.0L1338.4 1055.9L1339.3 1058.8L1340.3 1061.6L1341.3 1064.5L1342.2 1067.3L1343.2 1070.2L1344.1 1073.0L1345.1 1075.9L1346.1 1078.7L1347.1 1081.6L1348.1 1084.4L1349.1 1087.3L1350.1 1090.1L1351.1 1093.0L1352.1 1095.8L1353.1 1098.7L1354.1 1101.5L1355.1 1104.4L1356.1 1107.2L1357.2 1110.1L1358.2 1112.9L1359.3 1115.7L1360.3 1118.6L1361.4 1121.4L1362.4 1124.3L1363.5 1127.1L1364.5 1130.0L1365.6 1132.8L1366.7 1135.6L1367.8 1138.5L1368.9 1141.3L1370.0 1144.1L1371.1 1147.0L1372.2 1149.8L1373.3 1152.7L1374.4 1155.5L1375.5 1158.3L1376.7 1161.2L1377.8 1164.0L1378.9 1166.8L1380.1 1169.7L1381.2 1172.5L1382.4 1175.3L1383.6 1178.1L1384.7 1181.0L1385.9 1183.8L1387.1 1186.6L1388.3 1189.4L1389.6 1192.2L1390.8 1194.9L1392.1 1197.7L1393.4 1200.4L1394.7 1203.2L1396.1 1205.9L1397.4 1208.5L1398.8 1211.2L1400.3 1213.8L1401.8 1216.4L1403.3 1219.0L1404.8 1221.5L1406.4 1224.0L1408.0 1226.5L1409.7 1228.9L1411.4 1231.3L1413.1 1233.6L1414.9 1235.9L1416.7 1238.2L1418.6 1240.4L1420.6 1242.5L1422.6 1244.7L1424.7 1246.7L1426.8 1248.7L1429.0 1250.7L1431.2 1252.5L1433.5 1254.4L1435.9 1256.1L1438.3 1257.8L1440.8 1259.5L1443.3 1261.1L1445.9 1262.6L1448.6 1264.0L1451.3 1265.4L1454.0 1266.7L1456.8 1268.0L1459.6 1269.2L1462.5 1270.3L1465.4 1271.3L1468.3 1272.3L1471.2 1273.2L1474.2 1274.1L1477.1 1274.9L1480.1 1275.6L1483.1 1276.2L1486.1 1276.8L1489.2 1277.3L1492.2 1277.7L1495.2 1278.0L1498.2 1278.3L1501.2 1278.5L1504.3 1278.7L1507.3 1278.7L1510.3 1278.8L1513.3 1278.8L1516.3 1278.7L1519.3 1278.7L1522.3 1278.6L1525.3 1278.5L1528.3 1278.4L1531.2 1278.3L1534.2 1278.2L1537.2 1278.1L1540.2 1278.1L1543.2 1278.1L1546.2 1278.1L1549.2 1278.1L1552.2 1278.2L1555.2 1278.4L1558.1 1278.6L1561.1 1279.0L1941.0 1279.0"/>
<path stroke="#CC9900" d="M256.0 1278.8L260.3 1278.8L263.0 1278.9L265.8 1278.9L268.7 1278.9L271.6 1278.9L274.5 1278.9L277.5 1278.8L280.5 1278.7L283.5 1278.6L286.6 1278.5L289.7 1278.3L292.8 1278.1L295.9 1277.9L299.0 1277.7L302.2 1277.4L305.3 1277.1L308.5 1276.7L311.6 1276.4L314.8 1276.0L317.9 1275.5L321.1 1275.0L324.2 1274.5L327.3 1273.9L330.4 1273.3L333.5 1272.6L336.5 1271.9L339.5 1271.2L342.5 1270.4L345.5 1269.6L348.4 1268.7L351.3 1267.8L354.2 1266.8L357.0 1265.8L359.8 1264.7L362.6 1263.6L365.4 1262.4L368.1 1261.2L370.8 1260.0L373.4 1258.7L376.0 1257.4L378.6 1256.1L381.2 1254.7L383.8 1253.2L386.3 1251.8L388.8 1250.3L391.3 1248.7L393.7 1247.1L396.1 1245.5L398.5 1243.9L400.9 1242.2L403.2 1240.5L405.6 1238.8L407.9 1237.0L410.2 1235.2L412.4 1233.3L414.7 1231.5L416.9 1229.6L419.1 1227.6L421.2 1225.7L423.4 1223.7L425.5 1221.7L427.7 1219.7L429.8 1217.6L431.8 1215.5L433.9 1213.4L435.9 1211.3L438.0 1209.1L440.0 1207.0L442.0 1204.8L444.0 1202.6L445.9 1200.3L447.9 1198.1L449.8 1195.8L451.7 1193.5L453.6 1191.2L455.5 1188.9L457.4 1186.5L459.3 1184.2L461.1 1181.8L463.0 1179.4L464.8 1177.0L466.6 1174.6L468.5 1172.2L470.3 1169.7L472.1 1167.3L473.8 1164.8L475.6 1162.3L477.4 1159.9L479.1 1157.4L480.9 1154.9L482.6 1152.4L484.4 1149.9L486.1 1147.4L487.8 1144.9L489.6 1142.3L491.3 1139.8L493.0 1137.3L494.7 1134.7L496.4 1132.2L498.1 1129.7L499.8 1127.1L501.5 1124.6L503.2 1122.1L504.8 1119.5L506.5 1117.0L508.2 1114.4L509.9 1111.9L511.6 1109.4L513.2 1106.8L514.9 1104.3L516.6 1101.7L518.2 1099.2L519.9 1096.6L521.5 1094.1L523.2 1091.6L524.8 1089.0L526.5 1086.5L528.1 1083.9L529.8 1081.4L531.4 1078.8L533.1 1076.3L534.7 1073.7L536.3 1071.2L537.9 1068.6L539.6 1066.1L541.2 1063.5L542.8 1060.9L544.4 1058.4L546.1 1055.8L547.7 1053.3L549.3 1050.7L550.9 1048.2L552.5 1045.6L554.1 1043.1L555.7 1040.5L557.3 1037.9L558.9 1035.4L560.5 1032.8L562.1 1030.2L563.7 1027.7L565.2 1025.1L566.8 1022.6L568.4 1020.0L570.0 1017.4L571.6 1014.9L573.1 1012.3L574.7 1009.7L576.3 1007.1L577.8 1004.6L579.4 1002.0L581.0 999.4L582.5 996.9L584.1 994.3L585.6 991.7L587.2 989.1L588.7 986.6L590.3 984.0L591.8 981.4L593.4 978.8L594.9 976.3L596.5 973.7L598.0 971.1L599.5 968.5L601.1 965.9L602.6 963.4L604.1 960.8L605.7 958.2L607.2 955.6L608.7 953.0L610.2 950.4L611.8 947.9L613.3 945.3L614.8 942.7L616.3 940.1L617.8 937.5L619.3 934.9L620.8 932.3L622.4 929.7L623.9 927.2L625.4 924.6L626.9 922.0L628.4 919.4L629.9 916.8L631.4 914.2L632.9 911.6L634.4 909.0L635.9 906.4L637.3 903.8L638.8 901.2L640.3 898.6L641.8 896.0L643.3 893.4L644.8 890.8L646.3 888.2L647.7 885.6L649.2 883.0L650.7 880.4L652.2 877.8L653.7 875.2L655.1 872.6L656.6 870.0L658.1 867.4L659.5 864.8L661.0 862.1L662.5 859.5L664.0 856.9L665.4 854.3L666.9 851.7L668.3 849.1L669.8 846.5L671.3 843.9L672.7 841.3L674.2 838.6L675.6 836.0L677.1 833.4L678.6 830.8L680.0 828.2L681.5 825.5L682.9 822.9L684.4 820.3L685.8 817.7L687.3 815.1L688.7 812.4L690.2 809.8L691.6 807.2L693.0 804.6L694.5 801.9L695.9 799.3L697.4 796.7L698.8 794.1L700.3 791.4L701.7 788.8L703.1 786.2L704.6 783.5L706.0 780.9L707.5 778.3L708.9 775.7L710.3 773.0L711.8 770.4L713.2 767.7L714.6 765.1L716.1 762.5L717.5 759.8L718.9 757.2L720.4 754.6L721.8 751.9L723.2 749.3L724.7 746.6L726.1 744.0L727.5 741.4L728.9 738.7L730.4 736.1L731.8 733.4L733.2 730.8L734.7 728.1L736.1 725.5L737.5 722.8L738.9 720.2L740.4 717.5L741.8 714.9L743.2 712.2L744.6 709.6L746.1 706.9L747.5 704.3L748.9 701.6L750.3 699.0L751.7 696.3L753.2 693.7L754.6 691.0L756.0 688.4L757.4 685.7L758.9 683.0L760.3 680.4L761.7 677.7L763.1 675.1L764.6 672.4L766.0 669.7L767.4 667.1L768.8 664.4L770.2 661.7L771.6 659.1L773.0 656.4L774.5 653.7L775.9 651.1L777.3 648.4L778.7 645.7L780.0 643.0L781.4 640.4L782.8 637.7L784.2 635.0L785.6 632.3L786.9 629.6L788.3 626.9L789.7 624.2L791.0 621.5L792.4 618.8L793.7 616.1L795.0 613.4L796.4 610.7L797.7 608.0L799.0 605.3L800.3 602.6L801.6 599.9L802.9 597.2L804.2 594.4L805.4 591.7L806.7 589.0L808.0 586.2L809.2 583.5L810.4 580.8L811.7 578.0L812.9 575.3L814.1 572.5L815.3 569.7L816.4 567.0L817.6 564.2L818.8 561.4L819.9 558.7L821.1 555.9L822.2 553.1L823.3 550.3L824.4 547.5L825.5 544.7L826.5 541.9L827.6 539.1L828.6 536.3L829.6 533.5L830.7 530.7L831.7 527.8L832.7 525.0L833.6 522.2L834.6 519.4L835.6 516.5L836.5 513.7L837.5 510.8L838.4 508.0L839.4 505.1L840.3 502.3L841.3 499.4L842.2 496.6L843.1 493.8L844.1 490.9L845.0 488.1L846.0 485.2L846.9 482.4L847.8 479.5L848.8 476.7L849.7 473.8L850.7 471.0L851.6 468.1L852.6 465.3L853.6 462.5L854.6 459.6L855.6 456.8L856.6 454.0L857.6 451.2L858.6 448.3L859.7 445.5L860.7 442.7L861.8 439.9L862.9 437.1L864.0 434.3L865.1 431.5L866.2 428.8L867.4 426.0L868.6 423.2L869.8 420.5L871.0 417.7L872.2 415.0L873.5 412.2L874.8 409.5L876.1 406.8L877.4 404.1L878.8 401.4L880.2 398.7L881.6 396.0L883.1 393.3L884.5 390.7L886.0 388.0L887.6 385.4L889.2 382.8L890.8 380.1L892.4 377.5L894.1 375.0L895.8 372.4L897.5 369.8L899.3 367.2L901.1 364.7L903.0 362.2L904.9 359.7L906.8 357.2L908.8 354.8L910.8 352.3L912.8 350.0L914.9 347.7L917.0 345.4L919.2 343.2L921.4 341.1L923.7 339.0L925.9 337.1L928.3 335.2L930.6 333.4L933.0 331.7L935.4 330.0L937.9 328.5L940.4 327.2L943.0 325.9L945.5 324.7L948.2 323.7L950.8 322.8L953.5 322.1L956.3 321.5L959.0 321.0L961.8 320.7L964.6 320.5L967.4 320.4L970.3 320.5L973.1 320.7L975.9 321.1L978.8 321.5L981.6 322.1L984.4 322.9L987.2 323.7L989.9 324.7L992.7 325.8L995.4 327.0L998.1 328.3L1000.8 329.7L1003.4 331.2L1006.0 332.8L1008.6 334.5L1011.1 336.3L1013.7 338.1L1016.2 339.9L1018.6 341.9L1021.0 343.9L1023.4 345.9L1025.8 348.0L1028.1 350.1L1030.4 352.2L1032.6 354.4L1034.8 356.6L1036.9 358.8L1039.1 361.0L1041.1 363.3L1043.2 365.6L1045.2 367.9L1047.2 370.2L1049.1 372.5L1051.0 374.9L1052.9 377.3L1054.8 379.7L1056.6 382.1L1058.4 384.6L1060.1 387.0L1061.9 389.5L1063.6 392.0L1065.2 394.5L1066.9 397.0L1068.5 399.5L1070.1 402.1L1071.7 404.6L1073.2 407.2L1074.8 409.8L1076.3 412.4L1077.8 415.0L1079.3 417.6L1080.7 420.2L1082.1 422.9L1083.6 425.5L1085.0 428.2L1086.3 430.8L1087.7 433.5L1089.1 436.1L1090.4 438.8L1091.7 441.5L1093.0 444.2L1094.3 446.9L1095.6 449.6L1096.9 452.3L1098.1 455.0L1099.4 457.7L1100.6 460.4L1101.8 463.2L1103.0 465.9L1104.2 468.6L1105.4 471.4L1106.6 474.1L1107.7 476.9L1108.9 479.6L1110.0 482.4L1111.1 485.2L1112.2 488.0L1113.3 490.7L1114.4 493.5L1115.5 496.3L1116.6 499.1L1117.6 501.9L1118.7 504.7L1119.7 507.5L1120.7 510.3L1121.7 513.1L1122.7 515.9L1123.7 518.8L1124.7 521.6L1125.7 524.4L1126.7 527.2L1127.7 530.1L1128.6 532.9L1129.6 535.8L1130.5 538.6L1131.4 541.4L1132.4 544.3L1133.3 547.2L1134.2 550.0L1135.1 552.9L1136.0 555.7L1136.9 558.6L1137.8 561.5L1138.7 564.3L1139.6 567.2L1140.4 570.1L1141.3 573.0L1142.2 575.8L1143.0 578.7L1143.9 581.6L1144.7 584.5L1145.6 587.4L1146.4 590.3L1147.2 593.2L1148.1 596.0L1148.9 598.9L1149.7 601.8L1150.5 604.7L1151.4 607.6L1152.2 610.5L1153.0 613.4L1153.8 616.3L1154.6 619.2L1155.4 622.1L1156.2 625.0L1157.1 627.9L1157.9 630.8L1158.7 633.7L1159.5 636.7L1160.3 639.6L1161.1 642.5L1161.9 645.4L1162.7 648.3L1163.5 651.2L1164.3 654.1L1165.1 657.0L1165.9 659.9L1166.7 662.8L1167.5 665.7L1168.3 668.6L1169.1 671.5L1169.9 674.5L1170.7 677.4L1171.4 680.3L1172.2 683.2L1173.0 686.1L1173.8 689.0L1174.6 691.9L1175.4 694.8L1176.2 697.7L1177.0 700.7L1177.8 703.6L1178.6 706.5L1179.4 709.4L1180.1 712.3L1180.9 715.2L1181.7 718.1L1182.5 721.0L1183.3 723.9L1184.1 726.9L1184.9 729.8L1185.7 732.7L1186.4 735.6L1187.2 738.5L1188.0 741.4L1188.8 744.3L1189.6 747.2L1190.4 750.2L1191.2 753.1L1191.9 756.0L1192.7 758.9L1193.5 761.8L1194.3 764.7L1195.1 767.6L1195.9 770.5L1196.7 773.5L1197.4 776.4L1198.2 779.3L1199.0 782.2L1199.8 785.1L1200.6 788.0L1201.4 790.9L1202.2 793.8L1202.9 796.7L1203.7 799.6L1204.5 802.6L1205.3 805.5L1206.1 808.4L1206.9 811.3L1207.7 814.2L1208.4 817.1L1209.2 820.0L1210.0 822.9L1210.8 825.8L1211.6 828.7L1212.4 831.6L1213.2 834.5L1214.0 837.4L1214.8 840.3L1215.5 843.2L1216.3 846.1L1217.1 849.0L1217.9 851.9L1218.7 854.8L1219.5 857.7L1220.3 860.6L1221.1 863.5L1221.9 866.4L1222.7 869.3L1223.5 872.2L1224.3 875.1L1225.1 878.0L1225.9 880.9L1226.7 883.8L1227.5 886.7L1228.3 889.6L1229.1 892.5L1229.9 895.4L1230.7 898.3L1231.5 901.2L1232.3 904.1L1233.1 907.0L1233.9 909.8L1234.7 912.7L1235.5 915.6L1236.3 918.5L1237.1 921.4L1238.0 924.3L1238.8 927.2L1239.6 930.0L1240.4 932.9L1241.2 935.8L1242.0 938.7L1242.8 941.6L1243.7 944.4L1244.5 947.3L1245.3 950.2L1246.1 953.1L1246.9 955.9L1247.8 958.8L1248.6 961.7L1249.4 964.6L1250.2 967.4L1251.1 970.3L1251.9 973.2L1252.7 976.0L1253.6 978.9L1254.4 981.8L1255.2 984.6L1256.1 987.5L1256.9 990.4L1257.8 993.2L1258.6 996.1L1259.5 998.9L1260.3 1001.8L1261.2 1004.6L1262.0 1007.5L1262.9 1010.4L1263.7 1013.2L1264.6 1016.1L1265.5 1018.9L1266.3 1021.8L1267.2 1024.6L1268.1 1027.5L1269.0 1030.3L1269.8 1033.2L1270.7 1036.0L1271.6 1038.9L1272.5 1041.7L1273.4 1044.6L1274.3 1047.4L1275.2 1050.3L1276.1 1053.1L1277.0 1056.0L1278.0 1058.8L1278.9 1061.7L1279.8 1064.5L1280.7 1067.3L1281.7 1070.2L1282.6 1073.0L1283.6 1075.9L1284.5 1078.7L1285.5 1081.6L1286.4 1084.4L1287.4 1087.2L1288.4 1090.1L1289.4 1092.9L1290.3 1095.8L1291.3 1098.6L1292.3 1101.5L1293.3 1104.3L1294.3 1107.1L1295.4 1110.0L1296.4 1112.8L1297.4 1115.7L1298.5 1118.5L1299.5 1121.3L1300.5 1124.2L1301.6 1127.0L1302.7 1129.9L1303.7 1132.7L1304.8 1135.6L1305.9 1138.4L1307.0 1141.2L1308.1 1144.1L1309.2 1146.9L1310.3 1149.8L1311.4 1152.6L1312.6 1155.4L1313.7 1158.3L1314.9 1161.1L1316.0 1164.0L1317.2 1166.8L1318.4 1169.7L1319.5 1172.5L1320.7 1175.4L1321.9 1178.2L1323.1 1181.0L1324.4 1183.9L1325.6 1186.7L1326.9 1189.5L1328.2 1192.3L1329.5 1195.1L1330.8 1197.9L1332.1 1200.6L1333.5 1203.4L1334.9 1206.1L1336.3 1208.8L1337.7 1211.4L1339.2 1214.1L1340.7 1216.7L1342.3 1219.2L1343.8 1221.8L1345.4 1224.3L1347.1 1226.8L1348.8 1229.2L1350.5 1231.6L1352.3 1233.9L1354.1 1236.2L1356.0 1238.5L1357.9 1240.7L1359.8 1242.8L1361.8 1244.9L1363.9 1246.9L1366.0 1248.9L1368.2 1250.8L1370.4 1252.7L1372.7 1254.5L1375.0 1256.2L1377.4 1257.9L1379.9 1259.5L1382.4 1261.0L1384.9 1262.5L1387.5 1263.9L1390.2 1265.2L1392.8 1266.5L1395.6 1267.7L1398.3 1268.9L1401.1 1269.9L1404.0 1271.0L1406.8 1271.9L1409.7 1272.8L1412.7 1273.7L1415.6 1274.5L1418.6 1275.2L1421.6 1275.8L1424.6 1276.4L1427.6 1277.0L1430.6 1277.4L1433.7 1277.9L1436.8 1278.2L1439.8 1278.5L1442.9 1278.8L1446.0 1279.0L1449.0 1279.0L1452.1 1279.0L1455.2 1279.0L1458.3 1279.0L1461.3 1279.0L1464.4 1279.0L1467.4 1279.0L1470.5 1279.0L1473.5 1279.0L1476.5 1279.0L1479.5 1279.0L1482.5 1278.9L1485.4 1278.8L1488.4 1278.8L1491.3 1278.7L1494.2 1278.6L1497.1 1278.6L1499.9 1279.0L1941.0 1279.0"/>
</g>
<g stroke="#000" stroke-width="6.0" fill="none" stroke-linecap="butt" shape-rendering="crispEdges">
<line x1="425.8" y1="1406.0" x2="425.8" y2="1392.0"/><line x1="425.8" y1="32.0" x2="425.8" y2="46.0"/><line x1="594.1" y1="1406.0" x2="594.1" y2="1379.0"/><line x1="594.1" y1="32.0" x2="594.1" y2="59.0"/><line x1="762.4" y1="1406.0" x2="762.4" y2="1392.0"/><line x1="762.4" y1="32.0" x2="762.4" y2="46.0"/><line x1="930.7" y1="1406.0" x2="930.7" y2="1379.0"/><line x1="930.7" y1="32.0" x2="930.7" y2="59.0"/><line x1="1099.0" y1="1406.0" x2="1099.0" y2="1392.0"/><line x1="1099.0" y1="32.0" x2="1099.0" y2="46.0"/><line x1="1267.3" y1="1406.0" x2="1267.3" y2="1379.0"/><line x1="1267.3" y1="32.0" x2="1267.3" y2="59.0"/><line x1="1435.6" y1="1406.0" x2="1435.6" y2="1392.0"/><line x1="1435.6" y1="32.0" x2="1435.6" y2="46.0"/><line x1="1603.9" y1="1406.0" x2="1603.9" y2="1379.0"/><line x1="1603.9" y1="32.0" x2="1603.9" y2="59.0"/><line x1="1772.2" y1="1406.0" x2="1772.2" y2="1392.0"/><line x1="1772.2" y1="32.0" x2="1772.2" y2="46.0"/>
<line x1="257.0" y1="1300.3" x2="271.0" y2="1300.3"/><line x1="257.0" y1="1194.6" x2="284.0" y2="1194.6"/><line x1="257.0" y1="1088.9" x2="271.0" y2="1088.9"/><line x1="257.0" y1="983.2" x2="284.0" y2="983.2"/><line x1="257.0" y1="877.5" x2="271.0" y2="877.5"/><line x1="257.0" y1="771.8" x2="284.0" y2="771.8"/><line x1="257.0" y1="666.2" x2="271.0" y2="666.2"/><line x1="257.0" y1="560.5" x2="284.0" y2="560.5"/><line x1="257.0" y1="454.8" x2="271.0" y2="454.8"/><line x1="257.0" y1="349.1" x2="284.0" y2="349.1"/><line x1="257.0" y1="243.4" x2="271.0" y2="243.4"/><line x1="257.0" y1="137.7" x2="284.0" y2="137.7"/>
<line x1="1940.0" y1="1268.6" x2="1926.0" y2="1268.6"/><line x1="1940.0" y1="1131.2" x2="1913.0" y2="1131.2"/><line x1="1940.0" y1="993.8" x2="1926.0" y2="993.8"/><line x1="1940.0" y1="856.4" x2="1913.0" y2="856.4"/><line x1="1940.0" y1="719.0" x2="1926.0" y2="719.0"/><line x1="1940.0" y1="581.6" x2="1913.0" y2="581.6"/><line x1="1940.0" y1="444.2" x2="1926.0" y2="444.2"/><line x1="1940.0" y1="306.8" x2="1913.0" y2="306.8"/><line x1="1940.0" y1="169.4" x2="1926.0" y2="169.4"/></g>
<path d="M1940.0 32.0V1406.0" fill="none" stroke="#000" stroke-width="6.0" shape-rendering="crispEdges"/>
<g font-size="57.4" text-anchor="end">
<text x="228.6" y="1423.0">0</text><text x="228.6" y="1211.6">500</text><text x="228.6" y="1000.2">1000</text><text x="228.6" y="788.8">1500</text><text x="228.6" y="577.5">2000</text><text x="228.6" y="366.1">2500</text><text x="228.6" y="154.7">3000</text></g>
<g font-size="57.4" text-anchor="end">
<text x="259.6" y="1482.8">0.5</text><text x="596.2" y="1482.8">1.0</text><text x="932.8" y="1482.8">1.5</text><text x="1269.4" y="1482.8">2.0</text><text x="1606.0" y="1482.8">2.5</text><text x="1942.6" y="1482.8">3.0</text></g>
<text x="1077.5" y="1553.6" font-size="71.3" text-anchor="middle">distance (cm)</text>
<text transform="translate(75.3 667.6) rotate(-90)" font-size="71.3" text-anchor="middle">temperature (K)</text>
<g stroke-width="8" fill="none">
<line x1="803.2" y1="916.7" x2="921.8" y2="916.7" stroke="#515151"/><line x1="803.2" y1="988.9" x2="921.8" y2="988.9" stroke="#F14040"/><line x1="803.2" y1="1061.2" x2="921.8" y2="1061.2" stroke="#1A6FDF"/><line x1="803.2" y1="1133.6" x2="921.8" y2="1133.6" stroke="#37AD6B"/><line x1="803.2" y1="1205.9" x2="921.8" y2="1205.9" stroke="#B177DE"/><line x1="803.2" y1="1278.0" x2="921.8" y2="1278.0" stroke="#CC9900"/></g>
<g font-size="53.0">
<text class="beta" transform="translate(920.9 935.65) scale(1.15 1)" font-size="49.3">β</text><text transform="translate(948.05 934.85) scale(1.116 0.73)" font-size="52">=</text><text x="991.7" y="934.7">0CO2</text>
<text class="beta" transform="translate(920.9 1007.85) scale(1.15 1)" font-size="49.3">β</text><text transform="translate(948.05 1007.05) scale(1.116 0.73)" font-size="52">=</text><text x="980.3" y="1006.9">10%CO2</text>
<text class="beta" transform="translate(920.9 1080.15) scale(1.15 1)" font-size="49.3">β</text><text transform="translate(948.05 1079.35) scale(1.116 0.73)" font-size="52">=</text><text x="990.8" y="1079.2">20%CO2</text>
<text class="beta" transform="translate(920.9 1152.55) scale(1.15 1)" font-size="49.3">β</text><text transform="translate(948.05 1151.75) scale(1.116 0.73)" font-size="52">=</text><text x="978.2" y="1151.6">30%CO2</text>
<text class="beta" transform="translate(920.9 1224.85) scale(1.15 1)" font-size="49.3">β</text><text transform="translate(948.05 1224.05) scale(1.116 0.73)" font-size="52">=</text><text x="991.8" y="1223.9">40%CO2</text>
<text class="beta" transform="translate(920.9 1296.95) scale(1.15 1)" font-size="49.3">β</text><text transform="translate(948.05 1296.15) scale(1.116 0.73)" font-size="52">=</text><text x="991.2" y="1296.0">50%CO2</text>
</g>
<text transform="translate(793.2 726.0) scale(1 1.05)" font-size="54.4">50%CO<tspan font-size="39.5" dy="14.0" dx="-0.5">2</tspan></text>
<text transform="translate(1590.9 722.2) scale(1 1.075)" font-size="60">0CO<tspan font-size="42.5" dy="14.7">2</tspan></text>
<line x1="1565" y1="701.5" x2="1064" y2="705.4" stroke="#000" stroke-width="5"/>
<polygon points="1032.4,705.45 1065.4,697.4 1065.4,713.5" fill="#000" stroke="#000" stroke-width="5" stroke-linejoin="round"/>
</svg>
</body></html>
